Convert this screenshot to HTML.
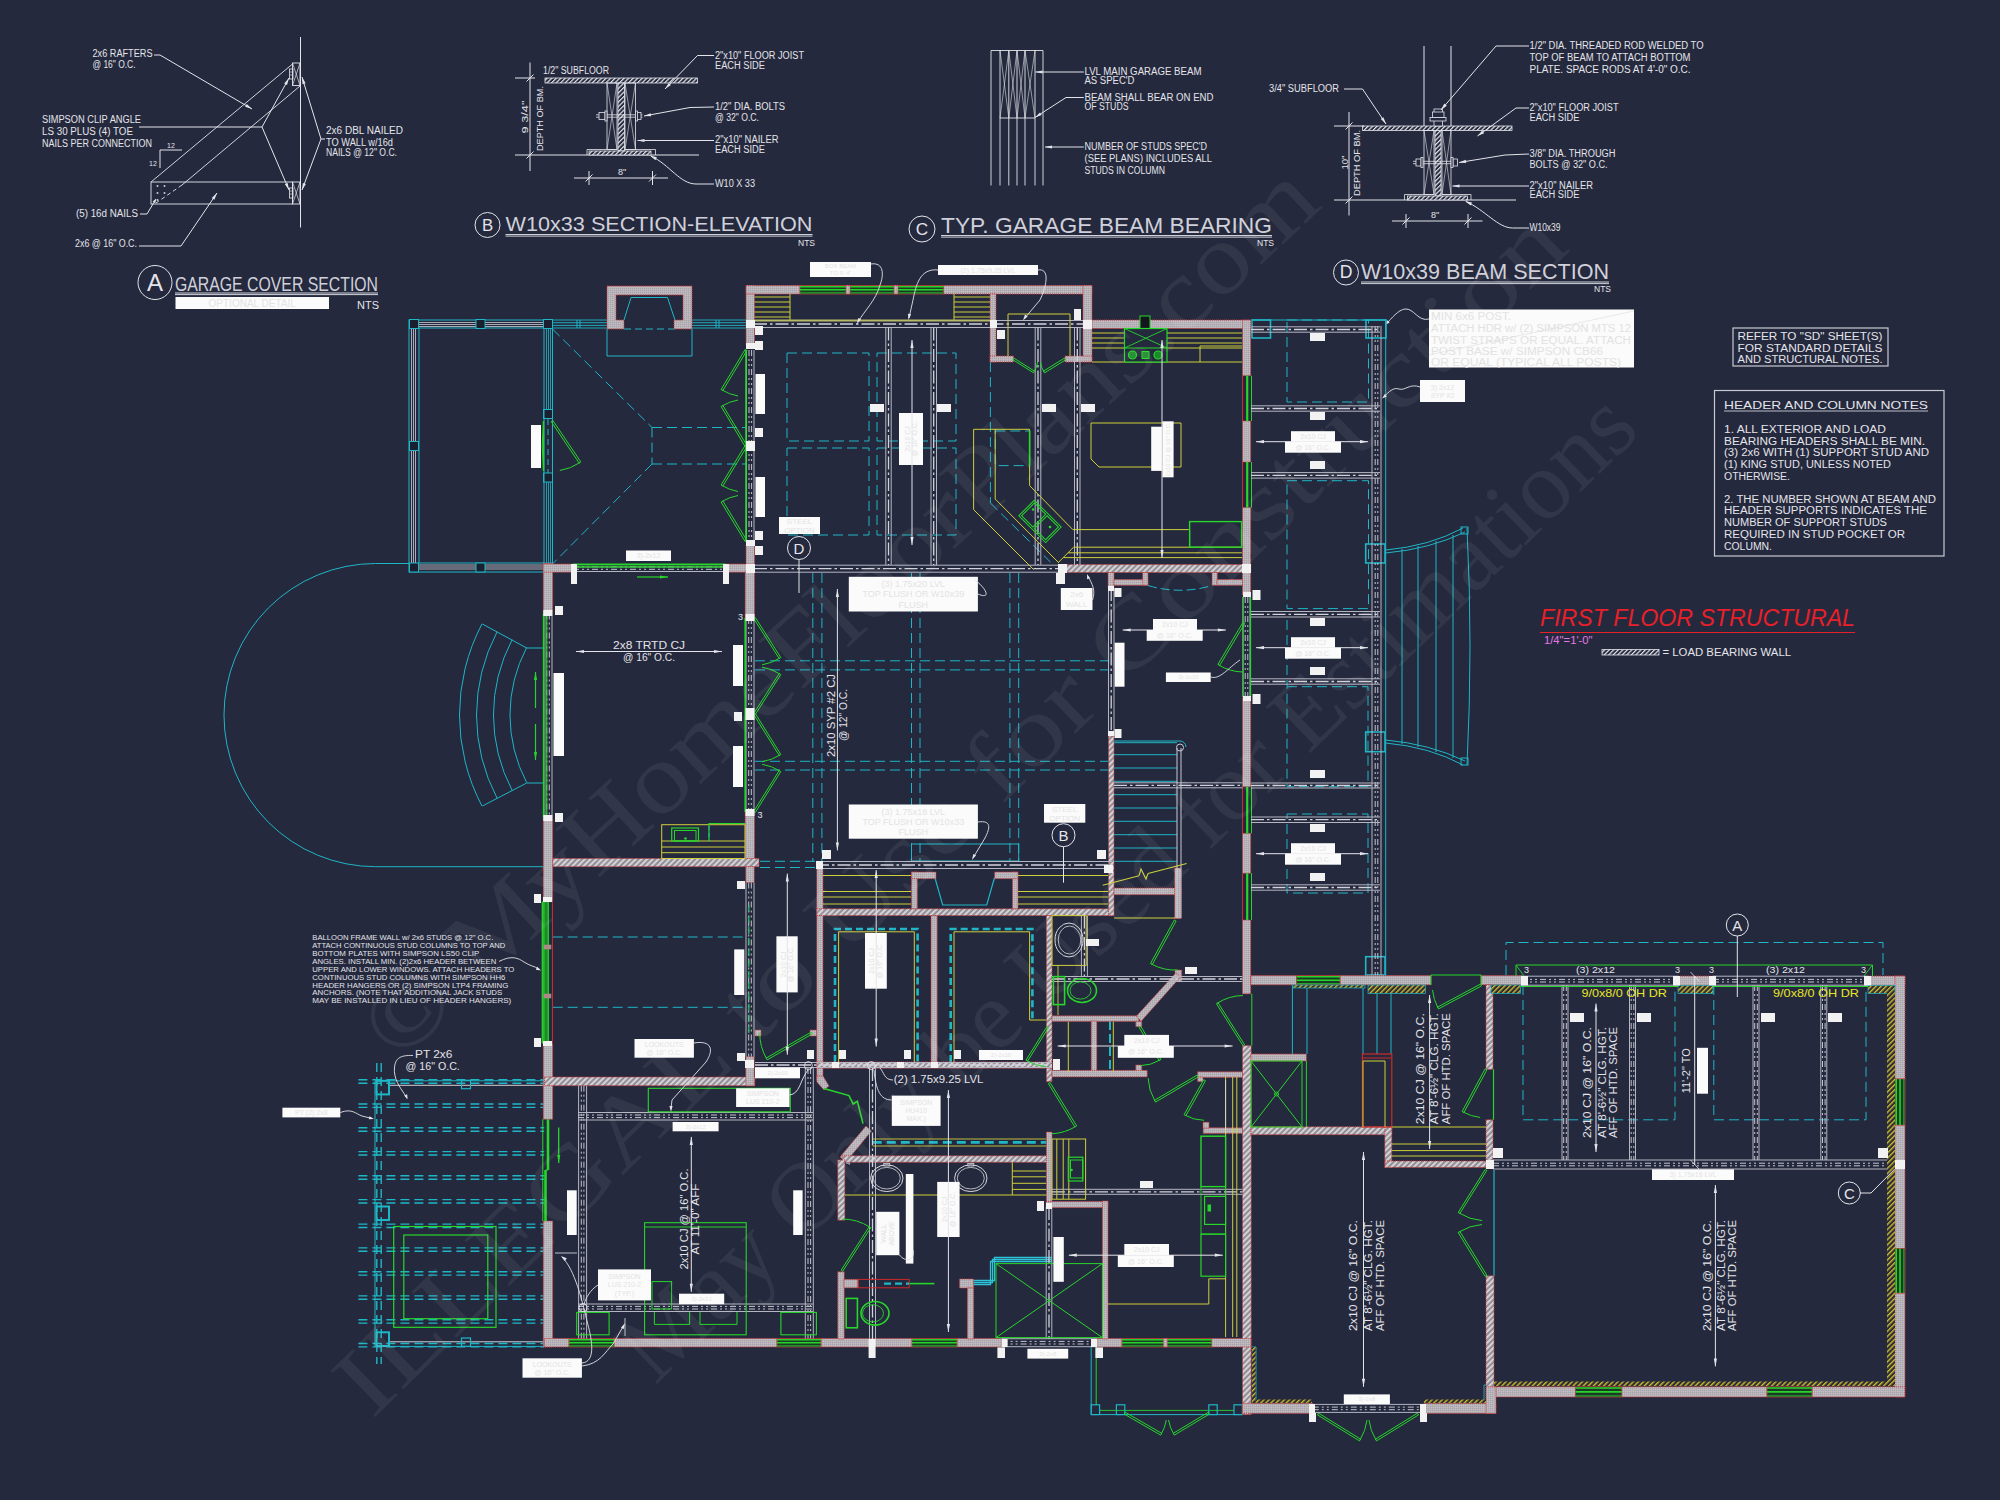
<!DOCTYPE html>
<html><head><meta charset="utf-8"><title>First Floor Structural</title>
<style>
html,body{margin:0;padding:0;background:#24293d;}
body{width:2000px;height:1500px;overflow:hidden;}
svg{display:block;}
text{font-family:"Liberation Sans","DejaVu Sans",sans-serif;}
.ser{font-family:"Liberation Serif","DejaVu Serif",serif;}
.it{font-style:italic;}
</style></head><body>
<svg width="2000" height="1500" viewBox="0 0 2000 1500">
<defs>
<pattern id="wl" width="2" height="2" patternUnits="userSpaceOnUse"><rect width="2" height="2" fill="#b6b2b8"/><rect width="1" height="1" fill="#a8a4ab"/><rect x="1" y="1" width="1" height="1" fill="#c2bec4"/></pattern>
<pattern id="lb" width="4" height="4" patternUnits="userSpaceOnUse" patternTransform="rotate(-45)"><rect width="4" height="4" fill="#8a878f"/><rect width="4" height="2.2" fill="#d4d1d6"/></pattern>
<pattern id="oh" width="3.6" height="3.6" patternUnits="userSpaceOnUse" patternTransform="rotate(-45)"><rect width="3.6" height="3.6" fill="#2c2d38"/><rect width="3.6" height="1.4" fill="#cdbb2c"/></pattern>
<pattern id="wh" width="3.2" height="3.2" patternUnits="userSpaceOnUse" patternTransform="rotate(-45)"><rect width="3.2" height="3.2" fill="#24293d"/><rect width="3.2" height="1.2" fill="#e4e4ea"/></pattern>
</defs>
<rect width="2000" height="1500" fill="#24293d"/>
<line x1="300.5" y1="37" x2="300.5" y2="227.5" stroke="#e4e4ea" stroke-width="1"/>
<rect x="292.5" y="63" width="7.5" height="22.5" stroke="#e4e4ea" stroke-width="0.9" fill="none"/>
<line x1="292.5" y1="63" x2="300" y2="85.5" stroke="#e4e4ea" stroke-width="0.7"/>
<line x1="300" y1="63" x2="292.5" y2="85.5" stroke="#e4e4ea" stroke-width="0.7"/>
<rect x="289.5" y="69" width="3.5" height="10" stroke="#e4e4ea" stroke-width="0.8" fill="none"/>
<line x1="289.5" y1="72" x2="293" y2="72" stroke="#e4e4ea" stroke-width="0.6"/>
<line x1="289.5" y1="75" x2="293" y2="75" stroke="#e4e4ea" stroke-width="0.6"/>
<rect x="292.5" y="182" width="7.5" height="22" stroke="#e4e4ea" stroke-width="0.9" fill="none"/>
<line x1="292.5" y1="182" x2="300" y2="204" stroke="#e4e4ea" stroke-width="0.7"/>
<line x1="300" y1="182" x2="292.5" y2="204" stroke="#e4e4ea" stroke-width="0.7"/>
<rect x="289.5" y="188" width="3.5" height="10" stroke="#e4e4ea" stroke-width="0.8" fill="none"/>
<line x1="289.5" y1="191" x2="293" y2="191" stroke="#e4e4ea" stroke-width="0.6"/>
<line x1="289.5" y1="194" x2="293" y2="194" stroke="#e4e4ea" stroke-width="0.6"/>
<rect x="151" y="182" width="141.5" height="22" stroke="#e4e4ea" stroke-width="0.9" fill="none"/>
<line x1="151" y1="182" x2="292.5" y2="64" stroke="#e4e4ea" stroke-width="0.9"/>
<line x1="300" y1="86" x2="182" y2="185" stroke="#e4e4ea" stroke-width="0.9"/>
<line x1="182" y1="185" x2="156" y2="203" stroke="#e4e4ea" stroke-width="0.9" stroke-dasharray="4 3"/>
<rect x="156.7" y="185.2" width="1.6" height="1.6" stroke="#e4e4ea" stroke-width="0" fill="#e4e4ea"/>
<rect x="163.7" y="185.2" width="1.6" height="1.6" stroke="#e4e4ea" stroke-width="0" fill="#e4e4ea"/>
<rect x="156.7" y="192.2" width="1.6" height="1.6" stroke="#e4e4ea" stroke-width="0" fill="#e4e4ea"/>
<rect x="163.7" y="192.2" width="1.6" height="1.6" stroke="#e4e4ea" stroke-width="0" fill="#e4e4ea"/>
<rect x="156.7" y="199.2" width="1.6" height="1.6" stroke="#e4e4ea" stroke-width="0" fill="#e4e4ea"/>
<line x1="160" y1="150" x2="182" y2="150" stroke="#e4e4ea" stroke-width="1"/>
<line x1="160" y1="150" x2="160" y2="168" stroke="#e4e4ea" stroke-width="1"/>
<text x="171" y="147.5" font-size="7" fill="#e4e4ea" text-anchor="middle">12</text>
<text x="153" y="165.5" font-size="7" fill="#e4e4ea" text-anchor="middle">12</text>
<path d="M154 55 L160 55 L252 109" stroke="#e4e4ea" stroke-width="1" fill="none"/>
<path d="M252 109 L245.2 106.8 L246.8 104.1 Z" fill="#e4e4ea"/>
<path d="M139 127 L262 127" stroke="#e4e4ea" stroke-width="1" fill="none"/>
<path d="M262 127 L289 78" stroke="#e4e4ea" stroke-width="1" fill="none"/>
<path d="M289 78 L287 84.9 L284.2 83.4 Z" fill="#e4e4ea"/>
<path d="M262 127 L289 190" stroke="#e4e4ea" stroke-width="1" fill="none"/>
<path d="M289 190 L284.8 184.2 L287.7 182.9 Z" fill="#e4e4ea"/>
<path d="M325 139 L321 139" stroke="#e4e4ea" stroke-width="1" fill="none"/>
<path d="M321 139 L302 77" stroke="#e4e4ea" stroke-width="1" fill="none"/>
<path d="M302 77 L305.6 83.2 L302.5 84.2 Z" fill="#e4e4ea"/>
<path d="M321 139 L302 190" stroke="#e4e4ea" stroke-width="1" fill="none"/>
<path d="M302 190 L302.9 182.9 L305.9 184 Z" fill="#e4e4ea"/>
<path d="M140 214 L147 214 L156 199" stroke="#e4e4ea" stroke-width="1" fill="none"/>
<path d="M156 199 L155.3 203.3 L152.6 201.6 Z" fill="#e4e4ea"/>
<path d="M139 246 L181 246 L217 193" stroke="#e4e4ea" stroke-width="1" fill="none"/>
<path d="M217 193 L214.4 199.7 L211.7 197.9 Z" fill="#e4e4ea"/>
<text x="92.5" y="57" font-size="10" fill="#e4e4ea" textLength="60" lengthAdjust="spacingAndGlyphs">2x6 RAFTERS</text>
<text x="92.5" y="67.5" font-size="10" fill="#e4e4ea" textLength="43" lengthAdjust="spacingAndGlyphs">@ 16" O.C.</text>
<text x="42" y="122.5" font-size="10" fill="#e4e4ea" textLength="99" lengthAdjust="spacingAndGlyphs">SIMPSON CLIP ANGLE</text>
<text x="42" y="134.5" font-size="10" fill="#e4e4ea" textLength="91" lengthAdjust="spacingAndGlyphs">LS 30 PLUS (4) TOE</text>
<text x="42" y="147" font-size="10" fill="#e4e4ea" textLength="110" lengthAdjust="spacingAndGlyphs">NAILS PER CONNECTION</text>
<text x="326" y="134" font-size="10" fill="#e4e4ea" textLength="77" lengthAdjust="spacingAndGlyphs">2x6 DBL NAILED</text>
<text x="326" y="145.5" font-size="10" fill="#e4e4ea" textLength="67" lengthAdjust="spacingAndGlyphs">TO WALL w/16d</text>
<text x="326" y="156" font-size="10" fill="#e4e4ea" textLength="71" lengthAdjust="spacingAndGlyphs">NAILS @ 12" O.C.</text>
<text x="76" y="217" font-size="10" fill="#e4e4ea" textLength="62" lengthAdjust="spacingAndGlyphs">(5) 16d NAILS</text>
<text x="75" y="247" font-size="10" fill="#e4e4ea" textLength="62" lengthAdjust="spacingAndGlyphs">2x6 @ 16" O.C.</text>
<circle cx="155" cy="282.5" r="17" stroke="#e4e4ea" stroke-width="1" fill="none"/>
<text x="155" y="291" font-size="24" fill="#e4e4ea" text-anchor="middle">A</text>
<text x="175" y="291" font-size="21" fill="#d0d0da" textLength="203" lengthAdjust="spacingAndGlyphs">GARAGE COVER SECTION</text>
<line x1="175" y1="293" x2="378" y2="293" stroke="#e4e4ea" stroke-width="0.9"/>
<line x1="175" y1="294.6" x2="378" y2="294.6" stroke="#e4e4ea" stroke-width="0.9"/>
<rect x="175.5" y="297" width="153.5" height="12" fill="#fbfbfb"/>
<text x="252.2" y="306.6" font-size="10" fill="#e3e3e3" text-anchor="middle">OPTIONAL DETAIL</text>
<text x="357" y="309" font-size="10.5" fill="#e4e4ea" textLength="22" lengthAdjust="spacingAndGlyphs">NTS</text>
<line x1="530" y1="62.5" x2="530" y2="171" stroke="#e4e4ea" stroke-width="1"/>
<line x1="515" y1="78" x2="535" y2="78" stroke="#e4e4ea" stroke-width="1"/>
<line x1="515" y1="155" x2="699" y2="155" stroke="#e4e4ea" stroke-width="1"/>
<line x1="526.5" y1="81.5" x2="533.5" y2="74.5" stroke="#e4e4ea" stroke-width="1"/>
<line x1="526.5" y1="158.5" x2="533.5" y2="151.5" stroke="#e4e4ea" stroke-width="1"/>
<text x="543" y="74" font-size="10" fill="#e4e4ea" textLength="66" lengthAdjust="spacingAndGlyphs">1/2" SUBFLOOR</text>
<rect x="545" y="78" width="152.5" height="5" fill="url(#wh)" stroke="#e4e4ea" stroke-width="0.8"/>
<rect x="618" y="83" width="6.5" height="68" fill="url(#wh)" stroke="#e4e4ea" stroke-width="0.8"/>
<rect x="589" y="151" width="62" height="4" fill="url(#wh)" stroke="#e4e4ea" stroke-width="0.8"/>
<path d="M587 155 L587 149.5 L617 149.5" stroke="#e4e4ea" stroke-width="0.8" fill="none"/>
<path d="M625 149.5 L655.5 149.5 L655.5 155" stroke="#e4e4ea" stroke-width="0.8" fill="none"/>
<rect x="607" y="83" width="10" height="66.5" stroke="#e4e4ea" stroke-width="0.8" fill="none"/>
<line x1="607" y1="83" x2="617" y2="149.5" stroke="#e4e4ea" stroke-width="0.6"/>
<line x1="617" y1="83" x2="607" y2="149.5" stroke="#e4e4ea" stroke-width="0.6"/>
<rect x="625" y="83" width="10.5" height="66.5" stroke="#e4e4ea" stroke-width="0.8" fill="none"/>
<line x1="625" y1="83" x2="635.5" y2="149.5" stroke="#e4e4ea" stroke-width="0.6"/>
<line x1="635.5" y1="83" x2="625" y2="149.5" stroke="#e4e4ea" stroke-width="0.6"/>
<line x1="596" y1="114.8" x2="642.5" y2="114.8" stroke="#e4e4ea" stroke-width="0.8"/>
<line x1="596" y1="117.2" x2="642.5" y2="117.2" stroke="#e4e4ea" stroke-width="0.8"/>
<rect x="599" y="112.5" width="6" height="7" stroke="#e4e4ea" stroke-width="0.8" fill="#24293d"/>
<rect x="636" y="112.5" width="5" height="7" stroke="#e4e4ea" stroke-width="0.8" fill="#24293d"/>
<rect x="605" y="111" width="2" height="10" stroke="#e4e4ea" stroke-width="0.8" fill="#24293d"/>
<rect x="635.5" y="111" width="2" height="10" stroke="#e4e4ea" stroke-width="0.8" fill="#24293d"/>
<text x="528" y="117" font-size="9" fill="#e4e4ea" text-anchor="middle" textLength="33" lengthAdjust="spacingAndGlyphs" transform="rotate(-90 528 117)">9 3/4"</text>
<text x="542.5" y="118.5" font-size="9" fill="#e4e4ea" text-anchor="middle" textLength="65" lengthAdjust="spacingAndGlyphs" transform="rotate(-90 542.5 118.5)">DEPTH OF BM.</text>
<line x1="574" y1="178" x2="668" y2="178" stroke="#e4e4ea" stroke-width="1"/>
<line x1="589" y1="171" x2="589" y2="185" stroke="#e4e4ea" stroke-width="1"/>
<line x1="652.5" y1="171" x2="652.5" y2="185" stroke="#e4e4ea" stroke-width="1"/>
<line x1="585.5" y1="181.5" x2="592.5" y2="174.5" stroke="#e4e4ea" stroke-width="1"/>
<line x1="649" y1="181.5" x2="656" y2="174.5" stroke="#e4e4ea" stroke-width="1"/>
<text x="622" y="175" font-size="9" fill="#e4e4ea" text-anchor="middle">8"</text>
<text x="715" y="59" font-size="10" fill="#e4e4ea" textLength="89" lengthAdjust="spacingAndGlyphs">2"x10" FLOOR JOIST</text>
<text x="715" y="69" font-size="10" fill="#e4e4ea" textLength="50" lengthAdjust="spacingAndGlyphs">EACH SIDE</text>
<text x="715" y="110" font-size="10" fill="#e4e4ea" textLength="70" lengthAdjust="spacingAndGlyphs">1/2" DIA. BOLTS</text>
<text x="715" y="121" font-size="10" fill="#e4e4ea" textLength="44" lengthAdjust="spacingAndGlyphs">@ 32" O.C.</text>
<text x="715" y="143" font-size="10" fill="#e4e4ea" textLength="63.5" lengthAdjust="spacingAndGlyphs">2"x10" NAILER</text>
<text x="715" y="152.5" font-size="10" fill="#e4e4ea" textLength="50" lengthAdjust="spacingAndGlyphs">EACH SIDE</text>
<text x="715" y="187" font-size="10" fill="#e4e4ea" textLength="40" lengthAdjust="spacingAndGlyphs">W10 X 33</text>
<path d="M714 55.5 L697.5 55.5 L665 89" stroke="#e4e4ea" stroke-width="1" fill="none"/>
<path d="M665 89 L668.7 82.9 L671 85.1 Z" fill="#e4e4ea"/>
<path d="M714 107 L690 107.5 L644 116" stroke="#e4e4ea" stroke-width="1" fill="none"/>
<path d="M644 116 L650.6 113.2 L651.2 116.3 Z" fill="#e4e4ea"/>
<path d="M714 140.5 L637.5 140.5" stroke="#e4e4ea" stroke-width="1" fill="none"/>
<path d="M637.5 140.5 L644.5 138.9 L644.5 142.1 Z" fill="#e4e4ea"/>
<path d="M714 184 L696 184 C680 184 670 165 651 156" stroke="#e4e4ea" stroke-width="1" fill="none"/>
<path d="M650 155.5 L656.9 157.3 L655.4 160.2 Z" fill="#e4e4ea"/>
<circle cx="487.5" cy="225" r="12.5" stroke="#e4e4ea" stroke-width="1" fill="none"/>
<text x="487.5" y="230.7" font-size="16.8" fill="#e4e4ea" text-anchor="middle">B</text>
<text x="505.5" y="231" font-size="21" fill="#d0d0da" textLength="307" lengthAdjust="spacingAndGlyphs">W10x33 SECTION-ELEVATION</text>
<line x1="505.5" y1="234.5" x2="812.5" y2="234.5" stroke="#e4e4ea" stroke-width="0.9"/>
<line x1="505.5" y1="236.1" x2="812.5" y2="236.1" stroke="#e4e4ea" stroke-width="0.9"/>
<text x="798" y="245.5" font-size="9.5" fill="#e4e4ea" textLength="17" lengthAdjust="spacingAndGlyphs">NTS</text>
<line x1="991" y1="50.5" x2="991" y2="185.5" stroke="#e4e4ea" stroke-width="0.9"/>
<line x1="1000" y1="50.5" x2="1000" y2="185.5" stroke="#e4e4ea" stroke-width="0.9"/>
<line x1="1008.8" y1="50.5" x2="1008.8" y2="185.5" stroke="#e4e4ea" stroke-width="0.9"/>
<line x1="1017" y1="50.5" x2="1017" y2="185.5" stroke="#e4e4ea" stroke-width="0.9"/>
<line x1="1025" y1="50.5" x2="1025" y2="185.5" stroke="#e4e4ea" stroke-width="0.9"/>
<line x1="1035" y1="50.5" x2="1035" y2="185.5" stroke="#e4e4ea" stroke-width="0.9"/>
<line x1="1043" y1="50.5" x2="1043" y2="185.5" stroke="#e4e4ea" stroke-width="0.9"/>
<line x1="991" y1="50.5" x2="1043" y2="50.5" stroke="#e4e4ea" stroke-width="0.9"/>
<line x1="1000" y1="118" x2="1035" y2="118" stroke="#e4e4ea" stroke-width="0.9"/>
<line x1="1000" y1="50.5" x2="1008.8" y2="118" stroke="#e4e4ea" stroke-width="0.6"/>
<line x1="1008.8" y1="50.5" x2="1000" y2="118" stroke="#e4e4ea" stroke-width="0.6"/>
<line x1="1008.8" y1="50.5" x2="1017" y2="118" stroke="#e4e4ea" stroke-width="0.6"/>
<line x1="1017" y1="50.5" x2="1008.8" y2="118" stroke="#e4e4ea" stroke-width="0.6"/>
<line x1="1017" y1="50.5" x2="1025" y2="118" stroke="#e4e4ea" stroke-width="0.6"/>
<line x1="1025" y1="50.5" x2="1017" y2="118" stroke="#e4e4ea" stroke-width="0.6"/>
<line x1="1025" y1="50.5" x2="1035" y2="118" stroke="#e4e4ea" stroke-width="0.6"/>
<line x1="1035" y1="50.5" x2="1025" y2="118" stroke="#e4e4ea" stroke-width="0.6"/>
<text x="1084.5" y="75" font-size="10" fill="#e4e4ea" textLength="117" lengthAdjust="spacingAndGlyphs">LVL MAIN GARAGE BEAM</text>
<text x="1084.5" y="84" font-size="10" fill="#e4e4ea" textLength="50" lengthAdjust="spacingAndGlyphs">AS SPEC'D</text>
<text x="1084.5" y="101" font-size="10" fill="#e4e4ea" textLength="129" lengthAdjust="spacingAndGlyphs">BEAM SHALL BEAR ON END</text>
<text x="1084.5" y="110" font-size="10" fill="#e4e4ea" textLength="44" lengthAdjust="spacingAndGlyphs">OF STUDS</text>
<text x="1084.5" y="150" font-size="10" fill="#e4e4ea" textLength="122.5" lengthAdjust="spacingAndGlyphs">NUMBER OF STUDS SPEC'D</text>
<text x="1084.5" y="162" font-size="10" fill="#e4e4ea" textLength="127.5" lengthAdjust="spacingAndGlyphs">(SEE PLANS) INCLUDES ALL</text>
<text x="1084.5" y="174" font-size="10" fill="#e4e4ea" textLength="80.5" lengthAdjust="spacingAndGlyphs">STUDS IN COLUMN</text>
<path d="M1083.8 72 L1035.5 72" stroke="#e4e4ea" stroke-width="1" fill="none"/>
<path d="M1035.5 72 L1042.5 70.4 L1042.5 73.6 Z" fill="#e4e4ea"/>
<path d="M1083.8 97.5 L1066 97.5 L1035 117.5" stroke="#e4e4ea" stroke-width="1" fill="none"/>
<path d="M1035 117.5 L1040 112.4 L1041.7 115 Z" fill="#e4e4ea"/>
<path d="M1083.8 147 L1045 147" stroke="#e4e4ea" stroke-width="1" fill="none"/>
<path d="M1045 147 L1052 145.4 L1052 148.6 Z" fill="#e4e4ea"/>
<circle cx="922" cy="229" r="13" stroke="#e4e4ea" stroke-width="1" fill="none"/>
<text x="922" y="234.8" font-size="17.2" fill="#e4e4ea" text-anchor="middle">C</text>
<text x="941" y="233" font-size="21.5" fill="#d0d0da" textLength="331" lengthAdjust="spacingAndGlyphs">TYP. GARAGE BEAM BEARING</text>
<line x1="941" y1="235.5" x2="1272" y2="235.5" stroke="#e4e4ea" stroke-width="0.9"/>
<line x1="941" y1="237.1" x2="1272" y2="237.1" stroke="#e4e4ea" stroke-width="0.9"/>
<text x="1257" y="246" font-size="9.5" fill="#e4e4ea" textLength="17" lengthAdjust="spacingAndGlyphs">NTS</text>
<text x="1269" y="92" font-size="10" fill="#e4e4ea" textLength="70" lengthAdjust="spacingAndGlyphs">3/4" SUBFLOOR</text>
<path d="M1344 89 L1362.5 89 L1386 124" stroke="#e4e4ea" stroke-width="1" fill="none"/>
<path d="M1386 124 L1380.8 119.1 L1383.4 117.3 Z" fill="#e4e4ea"/>
<line x1="1349" y1="112" x2="1349" y2="215.5" stroke="#e4e4ea" stroke-width="1"/>
<line x1="1334" y1="126" x2="1364" y2="126" stroke="#e4e4ea" stroke-width="1"/>
<line x1="1334" y1="200" x2="1516" y2="200" stroke="#e4e4ea" stroke-width="1"/>
<line x1="1345.5" y1="129.5" x2="1352.5" y2="122.5" stroke="#e4e4ea" stroke-width="1"/>
<line x1="1345.5" y1="203.5" x2="1352.5" y2="196.5" stroke="#e4e4ea" stroke-width="1"/>
<rect x="1362.5" y="126" width="149.5" height="4.5" fill="url(#wh)" stroke="#e4e4ea" stroke-width="0.8"/>
<line x1="1424" y1="46" x2="1424" y2="126" stroke="#e4e4ea" stroke-width="1"/>
<line x1="1451" y1="46" x2="1451" y2="126" stroke="#e4e4ea" stroke-width="1"/>
<rect x="1435" y="130.5" width="6" height="65.5" fill="url(#wh)" stroke="#e4e4ea" stroke-width="0.8"/>
<rect x="1407.5" y="196" width="60" height="4" fill="url(#wh)" stroke="#e4e4ea" stroke-width="0.8"/>
<path d="M1404.5 200 L1404.5 194.5 L1434 194.5" stroke="#e4e4ea" stroke-width="0.8" fill="none"/>
<path d="M1442 194.5 L1471 194.5 L1471 200" stroke="#e4e4ea" stroke-width="0.8" fill="none"/>
<rect x="1424" y="130.5" width="10" height="64" stroke="#e4e4ea" stroke-width="0.8" fill="none"/>
<line x1="1424" y1="130.5" x2="1434" y2="194.5" stroke="#e4e4ea" stroke-width="0.6"/>
<line x1="1434" y1="130.5" x2="1424" y2="194.5" stroke="#e4e4ea" stroke-width="0.6"/>
<rect x="1442" y="130.5" width="9" height="64" stroke="#e4e4ea" stroke-width="0.8" fill="none"/>
<line x1="1442" y1="130.5" x2="1451" y2="194.5" stroke="#e4e4ea" stroke-width="0.6"/>
<line x1="1451" y1="130.5" x2="1442" y2="194.5" stroke="#e4e4ea" stroke-width="0.6"/>
<rect x="1434" y="109" width="8.5" height="17" stroke="#e4e4ea" stroke-width="0.8" fill="#24293d"/>
<rect x="1430" y="117.5" width="16" height="3.5" stroke="#e4e4ea" stroke-width="0.8" fill="#24293d"/>
<rect x="1432.5" y="112" width="11.5" height="5.5" stroke="#e4e4ea" stroke-width="0.8" fill="#24293d"/>
<line x1="1413" y1="161.3" x2="1458" y2="161.3" stroke="#e4e4ea" stroke-width="0.8"/>
<line x1="1413" y1="163.7" x2="1458" y2="163.7" stroke="#e4e4ea" stroke-width="0.8"/>
<rect x="1416" y="159" width="5" height="7" stroke="#e4e4ea" stroke-width="0.8" fill="#24293d"/>
<rect x="1453" y="159" width="4.5" height="7" stroke="#e4e4ea" stroke-width="0.8" fill="#24293d"/>
<rect x="1421" y="157.5" width="2" height="10" stroke="#e4e4ea" stroke-width="0.8" fill="#24293d"/>
<rect x="1451" y="157.5" width="2" height="10" stroke="#e4e4ea" stroke-width="0.8" fill="#24293d"/>
<line x1="1392" y1="221" x2="1482.5" y2="221" stroke="#e4e4ea" stroke-width="1"/>
<line x1="1406" y1="214" x2="1406" y2="228" stroke="#e4e4ea" stroke-width="1"/>
<line x1="1468" y1="214" x2="1468" y2="228" stroke="#e4e4ea" stroke-width="1"/>
<line x1="1402.5" y1="224.5" x2="1409.5" y2="217.5" stroke="#e4e4ea" stroke-width="1"/>
<line x1="1464.5" y1="224.5" x2="1471.5" y2="217.5" stroke="#e4e4ea" stroke-width="1"/>
<text x="1435" y="217.5" font-size="9" fill="#e4e4ea" text-anchor="middle">8"</text>
<text x="1348" y="162.5" font-size="9" fill="#e4e4ea" text-anchor="middle" textLength="14" lengthAdjust="spacingAndGlyphs" transform="rotate(-90 1348 162.5)">10"</text>
<text x="1360" y="163" font-size="9" fill="#e4e4ea" text-anchor="middle" textLength="66" lengthAdjust="spacingAndGlyphs" transform="rotate(-90 1360 163)">DEPTH OF BM.</text>
<text x="1529.5" y="49" font-size="10" fill="#e4e4ea" textLength="174" lengthAdjust="spacingAndGlyphs">1/2" DIA. THREADED ROD WELDED TO</text>
<text x="1529.5" y="61" font-size="10" fill="#e4e4ea" textLength="161" lengthAdjust="spacingAndGlyphs">TOP OF BEAM TO ATTACH BOTTOM</text>
<text x="1529.5" y="73" font-size="10" fill="#e4e4ea" textLength="161" lengthAdjust="spacingAndGlyphs">PLATE. SPACE RODS AT 4'-0" O.C.</text>
<text x="1529.5" y="111" font-size="10" fill="#e4e4ea" textLength="89" lengthAdjust="spacingAndGlyphs">2"x10" FLOOR JOIST</text>
<text x="1529.5" y="121" font-size="10" fill="#e4e4ea" textLength="50" lengthAdjust="spacingAndGlyphs">EACH SIDE</text>
<text x="1529.5" y="157" font-size="10" fill="#e4e4ea" textLength="86" lengthAdjust="spacingAndGlyphs">3/8" DIA. THROUGH</text>
<text x="1529.5" y="167.5" font-size="10" fill="#e4e4ea" textLength="78" lengthAdjust="spacingAndGlyphs">BOLTS @ 32" O.C.</text>
<text x="1529.5" y="189" font-size="10" fill="#e4e4ea" textLength="63.5" lengthAdjust="spacingAndGlyphs">2"x10" NAILER</text>
<text x="1529.5" y="198" font-size="10" fill="#e4e4ea" textLength="50" lengthAdjust="spacingAndGlyphs">EACH SIDE</text>
<text x="1529.5" y="231" font-size="10" fill="#e4e4ea" textLength="31" lengthAdjust="spacingAndGlyphs">W10x39</text>
<path d="M1529 46 L1496 46 L1441 110" stroke="#e4e4ea" stroke-width="1" fill="none"/>
<path d="M1441 110 L1444.3 103.6 L1446.8 105.7 Z" fill="#e4e4ea"/>
<path d="M1529 108 L1516 108 L1477.5 136" stroke="#e4e4ea" stroke-width="1" fill="none"/>
<path d="M1477.5 136 L1482.2 130.6 L1484.1 133.2 Z" fill="#e4e4ea"/>
<path d="M1529 154 L1505 155 L1459 162.5" stroke="#e4e4ea" stroke-width="1" fill="none"/>
<path d="M1459 162.5 L1465.7 159.8 L1466.2 163 Z" fill="#e4e4ea"/>
<path d="M1529 186 L1452.5 186" stroke="#e4e4ea" stroke-width="1" fill="none"/>
<path d="M1452.5 186 L1459.5 184.4 L1459.5 187.6 Z" fill="#e4e4ea"/>
<path d="M1529 228 L1512.5 228 C1498 228 1485 210 1466 201.5" stroke="#e4e4ea" stroke-width="1" fill="none"/>
<path d="M1465 201 L1472 202.6 L1470.6 205.4 Z" fill="#e4e4ea"/>
<circle cx="1346" cy="272.5" r="12.5" stroke="#e4e4ea" stroke-width="1" fill="none"/>
<text x="1346" y="278.4" font-size="17.6" fill="#e4e4ea" text-anchor="middle">D</text>
<text x="1361" y="279" font-size="22" fill="#d0d0da" textLength="248" lengthAdjust="spacingAndGlyphs">W10x39 BEAM SECTION</text>
<line x1="1361" y1="282" x2="1609" y2="282" stroke="#e4e4ea" stroke-width="0.9"/>
<line x1="1361" y1="283.6" x2="1609" y2="283.6" stroke="#e4e4ea" stroke-width="0.9"/>
<text x="1594" y="292" font-size="9.5" fill="#e4e4ea" textLength="17" lengthAdjust="spacingAndGlyphs">NTS</text>
<rect x="1429" y="309.5" width="205" height="58" fill="#fbfbfb"/>
<text x="1431" y="320" font-size="10" fill="#e2e2e2" textLength="80" lengthAdjust="spacingAndGlyphs">MIN 6x6 POST.</text>
<text x="1431" y="332" font-size="10" fill="#e2e2e2" textLength="200" lengthAdjust="spacingAndGlyphs">ATTACH HDR w/ (2) SIMPSON MTS 12</text>
<text x="1431" y="343.5" font-size="10" fill="#e2e2e2" textLength="200" lengthAdjust="spacingAndGlyphs">TWIST STRAPS OR EQUAL.  ATTACH</text>
<text x="1431" y="355" font-size="10" fill="#e2e2e2" textLength="172" lengthAdjust="spacingAndGlyphs">POST BASE w/ SIMPSON CB66</text>
<text x="1431" y="366" font-size="10" fill="#e2e2e2" textLength="190" lengthAdjust="spacingAndGlyphs">OR EQUAL (TYPICAL ALL POSTS)</text>
<line x1="1429" y1="355" x2="1634" y2="311" stroke="#dcdcdc" stroke-width="0.6"/>
<path d="M1386 324 C1392 318 1398 310 1405 309 C1414 308 1418 322 1429 319" stroke="#e4e4ea" stroke-width="0.9" fill="none"/>
<path d="M1385 325 L1387.4 320.3 L1389.7 322.6 Z" fill="#e4e4ea"/>
<rect x="1733" y="328" width="155" height="38" stroke="#c9c9d2" stroke-width="1.2" fill="none"/>
<text x="1737.5" y="340" font-size="10" fill="#e4e4ea" textLength="145" lengthAdjust="spacingAndGlyphs">REFER TO "SD" SHEET(S)</text>
<text x="1737.5" y="352" font-size="10" fill="#e4e4ea" textLength="145" lengthAdjust="spacingAndGlyphs">FOR STANDARD DETAILS</text>
<text x="1737.5" y="363" font-size="10" fill="#e4e4ea" textLength="145" lengthAdjust="spacingAndGlyphs">AND STRUCTURAL NOTES.</text>
<rect x="1714.5" y="390.5" width="229.5" height="165.5" stroke="#c9c9d2" stroke-width="1.2" fill="none"/>
<text x="1724" y="409" font-size="11" fill="#e4e4ea" textLength="204" lengthAdjust="spacingAndGlyphs">HEADER AND COLUMN NOTES</text>
<line x1="1724" y1="411" x2="1928" y2="411" stroke="#e4e4ea" stroke-width="0.8"/>
<text x="1724" y="432.5" font-size="10" fill="#e4e4ea" textLength="162" lengthAdjust="spacingAndGlyphs">1. ALL EXTERIOR AND LOAD</text>
<text x="1724" y="444.5" font-size="10" fill="#e4e4ea" textLength="201" lengthAdjust="spacingAndGlyphs">BEARING HEADERS SHALL BE MIN.</text>
<text x="1724" y="456" font-size="10" fill="#e4e4ea" textLength="205" lengthAdjust="spacingAndGlyphs">(3) 2x6 WITH (1) SUPPORT STUD AND</text>
<text x="1724" y="468" font-size="10" fill="#e4e4ea" textLength="167" lengthAdjust="spacingAndGlyphs">(1) KING STUD, UNLESS NOTED</text>
<text x="1724" y="479.5" font-size="10" fill="#e4e4ea" textLength="66" lengthAdjust="spacingAndGlyphs">OTHERWISE.</text>
<text x="1724" y="502.5" font-size="10" fill="#e4e4ea" textLength="212" lengthAdjust="spacingAndGlyphs">2. THE NUMBER SHOWN AT BEAM AND</text>
<text x="1724" y="514" font-size="10" fill="#e4e4ea" textLength="203" lengthAdjust="spacingAndGlyphs">HEADER SUPPORTS INDICATES THE</text>
<text x="1724" y="526" font-size="10" fill="#e4e4ea" textLength="163" lengthAdjust="spacingAndGlyphs">NUMBER OF SUPPORT STUDS</text>
<text x="1724" y="538" font-size="10" fill="#e4e4ea" textLength="181" lengthAdjust="spacingAndGlyphs">REQUIRED IN STUD POCKET OR</text>
<text x="1724" y="549.5" font-size="10" fill="#e4e4ea" textLength="48" lengthAdjust="spacingAndGlyphs">COLUMN.</text>
<text x="1540" y="626" font-size="23" fill="#e8202a" textLength="315" lengthAdjust="spacingAndGlyphs" class="it">FIRST FLOOR STRUCTURAL</text>
<line x1="1540" y1="632.5" x2="1855" y2="632.5" stroke="#e8202a" stroke-width="1.2"/>
<text x="1544" y="644" font-size="10" fill="#e478e4" textLength="48.5" lengthAdjust="spacingAndGlyphs">1/4"=1'-0"</text>
<rect x="1602" y="649.5" width="57" height="5.5" fill="url(#wh)" stroke="#e4e4ea" stroke-width="0.8"/>
<text x="1662.5" y="655.5" font-size="10" fill="#e4e4ea" textLength="128.5" lengthAdjust="spacingAndGlyphs">= LOAD BEARING WALL</text>
<rect x="409" y="320" width="143.5" height="252" stroke="#1fb6c6" stroke-width="1" fill="none"/>
<line x1="419" y1="328" x2="544" y2="328" stroke="#1fb6c6" stroke-width="1"/>
<line x1="419" y1="328" x2="419" y2="563" stroke="#1fb6c6" stroke-width="1"/>
<line x1="419" y1="563" x2="544" y2="563" stroke="#1fb6c6" stroke-width="1"/>
<line x1="419" y1="322.5" x2="544" y2="322.5" stroke="#cfcfd6" stroke-width="0.8"/>
<line x1="419" y1="324.5" x2="544" y2="324.5" stroke="#cfcfd6" stroke-width="0.8"/>
<line x1="419" y1="326.5" x2="544" y2="326.5" stroke="#cfcfd6" stroke-width="0.8"/>
<line x1="419" y1="565" x2="544" y2="565" stroke="#cfcfd6" stroke-width="0.8"/>
<line x1="419" y1="567" x2="544" y2="567" stroke="#cfcfd6" stroke-width="0.8"/>
<line x1="419" y1="569" x2="544" y2="569" stroke="#cfcfd6" stroke-width="0.8"/>
<line x1="411.5" y1="328" x2="411.5" y2="563" stroke="#cfcfd6" stroke-width="0.8"/>
<line x1="413.5" y1="328" x2="413.5" y2="563" stroke="#cfcfd6" stroke-width="0.8"/>
<line x1="415.5" y1="328" x2="415.5" y2="563" stroke="#cfcfd6" stroke-width="0.8"/>
<rect x="409.5" y="319.5" width="9" height="9" stroke="#1fb6c6" stroke-width="1" fill="#1a2030"/>
<rect x="476" y="319.5" width="9" height="9" stroke="#1fb6c6" stroke-width="1" fill="#1a2030"/>
<rect x="543.5" y="319.5" width="9" height="9" stroke="#1fb6c6" stroke-width="1" fill="#1a2030"/>
<rect x="409.5" y="441.5" width="9" height="9" stroke="#1fb6c6" stroke-width="1" fill="#1a2030"/>
<rect x="409.5" y="563" width="9" height="9" stroke="#1fb6c6" stroke-width="1" fill="#1a2030"/>
<rect x="476" y="563" width="9" height="9" stroke="#1fb6c6" stroke-width="1" fill="#1a2030"/>
<rect x="543.5" y="409.5" width="9" height="9" stroke="#1fb6c6" stroke-width="1" fill="#1a2030"/>
<rect x="543.5" y="473" width="9" height="9" stroke="#1fb6c6" stroke-width="1" fill="#1a2030"/>
<rect x="543.5" y="563" width="9" height="9" stroke="#1fb6c6" stroke-width="1" fill="#1a2030"/>
<line x1="544" y1="328" x2="544" y2="563" stroke="#1fb6c6" stroke-width="1"/>
<line x1="552.5" y1="328" x2="552.5" y2="563" stroke="#1fb6c6" stroke-width="1"/>
<line x1="546.5" y1="329" x2="546.5" y2="410" stroke="#1fb6c6" stroke-width="0.8"/>
<line x1="546.5" y1="482" x2="546.5" y2="563" stroke="#1fb6c6" stroke-width="0.8"/>
<line x1="548.5" y1="329" x2="548.5" y2="410" stroke="#1fb6c6" stroke-width="0.8"/>
<line x1="548.5" y1="482" x2="548.5" y2="563" stroke="#1fb6c6" stroke-width="0.8"/>
<line x1="550.5" y1="329" x2="550.5" y2="410" stroke="#1fb6c6" stroke-width="0.8"/>
<line x1="550.5" y1="482" x2="550.5" y2="563" stroke="#1fb6c6" stroke-width="0.8"/>
<line x1="552.5" y1="320" x2="607" y2="320" stroke="#1fb6c6" stroke-width="0.9"/>
<line x1="692" y1="320" x2="746" y2="320" stroke="#1fb6c6" stroke-width="0.9"/>
<line x1="552.5" y1="322.7" x2="607" y2="322.7" stroke="#1fb6c6" stroke-width="0.9"/>
<line x1="692" y1="322.7" x2="746" y2="322.7" stroke="#1fb6c6" stroke-width="0.9"/>
<line x1="552.5" y1="325.4" x2="607" y2="325.4" stroke="#1fb6c6" stroke-width="0.9"/>
<line x1="692" y1="325.4" x2="746" y2="325.4" stroke="#1fb6c6" stroke-width="0.9"/>
<line x1="552.5" y1="328" x2="607" y2="328" stroke="#1fb6c6" stroke-width="0.9"/>
<line x1="692" y1="328" x2="746" y2="328" stroke="#1fb6c6" stroke-width="0.9"/>
<line x1="577" y1="320" x2="577" y2="328" stroke="#1fb6c6" stroke-width="1"/>
<line x1="580" y1="320" x2="580" y2="328" stroke="#1fb6c6" stroke-width="1"/>
<line x1="716" y1="320" x2="716" y2="328" stroke="#1fb6c6" stroke-width="1"/>
<line x1="719" y1="320" x2="719" y2="328" stroke="#1fb6c6" stroke-width="1"/>
<path d="M624 320 L631 297.5 L667.5 297.5 L675 320" stroke="#1fb6c6" stroke-width="1" fill="none"/>
<line x1="624" y1="329" x2="675" y2="329" stroke="#1fb6c6" stroke-width="1" stroke-dasharray="7 4"/>
<path d="M607 329 L607 356 L692 356 L692 329" stroke="#1fb6c6" stroke-width="1" fill="none"/>
<line x1="552.5" y1="329" x2="652" y2="427.5" stroke="#1fb6c6" stroke-width="1" stroke-dasharray="10 5"/>
<line x1="652" y1="427.5" x2="746" y2="427.5" stroke="#1fb6c6" stroke-width="1" stroke-dasharray="10 5"/>
<line x1="652" y1="427.5" x2="652" y2="464" stroke="#1fb6c6" stroke-width="1" stroke-dasharray="10 5"/>
<line x1="652" y1="464" x2="746" y2="464" stroke="#1fb6c6" stroke-width="1" stroke-dasharray="10 5"/>
<line x1="652" y1="464" x2="552.5" y2="564" stroke="#1fb6c6" stroke-width="1" stroke-dasharray="10 5"/>
<line x1="548" y1="419" x2="548" y2="473" stroke="#1fb6c6" stroke-width="1" stroke-dasharray="6 4"/>
<rect x="787" y="353" width="82" height="88" stroke="#1fb6c6" stroke-width="1" fill="none" stroke-dasharray="10 5"/>
<rect x="787" y="448" width="82" height="87" stroke="#1fb6c6" stroke-width="1" fill="none" stroke-dasharray="10 5"/>
<rect x="877" y="353" width="79" height="88" stroke="#1fb6c6" stroke-width="1" fill="none" stroke-dasharray="10 5"/>
<rect x="877" y="448" width="79" height="87" stroke="#1fb6c6" stroke-width="1" fill="none" stroke-dasharray="10 5"/>
<line x1="990.4" y1="362" x2="990.4" y2="503" stroke="#1fb6c6" stroke-width="1" stroke-dasharray="10 5"/>
<line x1="990.4" y1="503" x2="1050.4" y2="562" stroke="#1fb6c6" stroke-width="1" stroke-dasharray="10 5"/>
<rect x="995.2" y="431" width="34.4" height="34.6" stroke="#1fb6c6" stroke-width="1" fill="none" stroke-dasharray="10 5"/>
<line x1="812.8" y1="573" x2="812.8" y2="862" stroke="#1fb6c6" stroke-width="1" stroke-dasharray="10 5"/>
<line x1="821.9" y1="573" x2="821.9" y2="862" stroke="#1fb6c6" stroke-width="1" stroke-dasharray="10 5"/>
<line x1="911.5" y1="573" x2="911.5" y2="862" stroke="#1fb6c6" stroke-width="1" stroke-dasharray="10 5"/>
<line x1="920" y1="573" x2="920" y2="862" stroke="#1fb6c6" stroke-width="1" stroke-dasharray="10 5"/>
<line x1="1009.9" y1="573" x2="1009.9" y2="862" stroke="#1fb6c6" stroke-width="1" stroke-dasharray="10 5"/>
<line x1="1018.7" y1="573" x2="1018.7" y2="862" stroke="#1fb6c6" stroke-width="1" stroke-dasharray="10 5"/>
<line x1="755" y1="660.8" x2="1108" y2="660.8" stroke="#1fb6c6" stroke-width="1" stroke-dasharray="10 5"/>
<line x1="755" y1="669.9" x2="1108" y2="669.9" stroke="#1fb6c6" stroke-width="1" stroke-dasharray="10 5"/>
<line x1="755" y1="761.3" x2="1108" y2="761.3" stroke="#1fb6c6" stroke-width="1" stroke-dasharray="10 5"/>
<line x1="755" y1="770" x2="1108" y2="770" stroke="#1fb6c6" stroke-width="1" stroke-dasharray="10 5"/>
<line x1="760" y1="861.3" x2="816" y2="861.3" stroke="#1fb6c6" stroke-width="1" stroke-dasharray="10 5"/>
<line x1="760" y1="867.5" x2="816" y2="867.5" stroke="#1fb6c6" stroke-width="1" stroke-dasharray="10 5"/>
<rect x="911.5" y="844" width="107.2" height="17" stroke="#1fb6c6" stroke-width="1" fill="none"/>
<path d="M934.7 877 L942.7 905 L986.7 905 L994.7 877" stroke="#1fb6c6" stroke-width="1.2" fill="none"/>
<line x1="1114" y1="742.7" x2="1177" y2="742.7" stroke="#1fb6c6" stroke-width="1"/>
<line x1="1114" y1="754.7" x2="1177" y2="754.7" stroke="#1fb6c6" stroke-width="1"/>
<line x1="1114" y1="768" x2="1177" y2="768" stroke="#1fb6c6" stroke-width="1"/>
<line x1="1114" y1="781.3" x2="1177" y2="781.3" stroke="#1fb6c6" stroke-width="1"/>
<line x1="1114" y1="794.7" x2="1177" y2="794.7" stroke="#1fb6c6" stroke-width="1"/>
<line x1="1114" y1="808" x2="1177" y2="808" stroke="#1fb6c6" stroke-width="1"/>
<line x1="1114" y1="821.3" x2="1177" y2="821.3" stroke="#1fb6c6" stroke-width="1"/>
<line x1="1114" y1="834.7" x2="1177" y2="834.7" stroke="#1fb6c6" stroke-width="1"/>
<line x1="1114" y1="848" x2="1177" y2="848" stroke="#1fb6c6" stroke-width="1"/>
<line x1="1114" y1="861.3" x2="1177" y2="861.3" stroke="#1fb6c6" stroke-width="1"/>
<path d="M1114 741 L1180 741 A6 6 0 0 1 1186 747" stroke="#1fb6c6" stroke-width="1" fill="none"/>
<path d="M1148 585.5 Q1180 595 1212 585.5" stroke="#1fb6c6" stroke-width="1" fill="none" stroke-dasharray="9 4"/>
<path d="M835 1062 L835 929 L917.6 929 L917.6 1062" stroke="#1fb6c6" stroke-width="2.6" fill="none" stroke-dasharray="7 4"/>
<path d="M950.7 1062 L950.7 929 L1032.4 929 L1032.4 1020" stroke="#1fb6c6" stroke-width="2.6" fill="none" stroke-dasharray="7 4"/>
<line x1="872.8" y1="1142.4" x2="1046" y2="1142.4" stroke="#1fb6c6" stroke-width="2.6" stroke-dasharray="9 5"/>
<line x1="1110" y1="1021" x2="1110" y2="1073" stroke="#1fb6c6" stroke-width="2" stroke-dasharray="9 4"/>
<line x1="552.7" y1="937" x2="745" y2="937" stroke="#1fb6c6" stroke-width="1" stroke-dasharray="10 5"/>
<line x1="552.7" y1="1007.3" x2="745" y2="1007.3" stroke="#1fb6c6" stroke-width="1" stroke-dasharray="10 5"/>
<line x1="1385.7" y1="320" x2="1385.7" y2="975" stroke="#1fb6c6" stroke-width="1"/>
<line x1="1252" y1="320" x2="1386" y2="320" stroke="#1fb6c6" stroke-width="1"/>
<rect x="1252" y="320" width="18.5" height="18" stroke="#1fb6c6" stroke-width="1.6" fill="none"/>
<rect x="1366" y="320" width="20" height="18" stroke="#1fb6c6" stroke-width="1.6" fill="none"/>
<rect x="1365.7" y="544" width="19.3" height="19" stroke="#1fb6c6" stroke-width="1.6" fill="none"/>
<rect x="1365.7" y="732" width="19.3" height="19.7" stroke="#1fb6c6" stroke-width="1.6" fill="none"/>
<rect x="1365.7" y="956.7" width="19.3" height="18.3" stroke="#1fb6c6" stroke-width="1.6" fill="none"/>
<rect x="1287" y="320" width="81.5" height="82" stroke="#1fb6c6" stroke-width="1" fill="none" stroke-dasharray="10 5"/>
<rect x="1287" y="480.7" width="81.5" height="127.9" stroke="#1fb6c6" stroke-width="1" fill="none" stroke-dasharray="10 5"/>
<rect x="1287" y="686.7" width="81" height="100" stroke="#1fb6c6" stroke-width="1" fill="none" stroke-dasharray="10 5"/>
<rect x="1287" y="814" width="81" height="79" stroke="#1fb6c6" stroke-width="1" fill="none" stroke-dasharray="10 5"/>
<line x1="1287" y1="620" x2="1287" y2="686" stroke="#1fb6c6" stroke-width="1" stroke-dasharray="10 5"/>
<path d="M1385.7 550 Q1430 546 1463 528" stroke="#1fb6c6" stroke-width="1" fill="none"/>
<path d="M1385.7 553 Q1430 549 1465 532" stroke="#1fb6c6" stroke-width="1" fill="none"/>
<path d="M1385.7 743 Q1430 747 1463 765" stroke="#1fb6c6" stroke-width="1" fill="none"/>
<path d="M1385.7 740 Q1430 744 1465 761" stroke="#1fb6c6" stroke-width="1" fill="none"/>
<path d="M1467 528 Q1473 646 1467 765" stroke="#1fb6c6" stroke-width="1" fill="none"/>
<rect x="1461" y="527" width="7" height="7" stroke="#1fb6c6" stroke-width="1" fill="none"/>
<rect x="1461" y="758" width="7" height="7" stroke="#1fb6c6" stroke-width="1" fill="none"/>
<line x1="1402" y1="549" x2="1402" y2="744" stroke="#1fb6c6" stroke-width="1"/>
<line x1="1418" y1="546" x2="1418" y2="747" stroke="#1fb6c6" stroke-width="1"/>
<line x1="1436" y1="541" x2="1436" y2="752" stroke="#1fb6c6" stroke-width="1"/>
<line x1="1453" y1="535" x2="1453" y2="758" stroke="#1fb6c6" stroke-width="1"/>
<path d="M409 563.5 L375.6 563.5 A151.6 151.6 0 0 0 375.6 866.7 L544 866.7" stroke="#1fb6c6" stroke-width="1" fill="none"/>
<path d="M482 623.9 A195.5 195.5 0 0 0 482 806.1" stroke="#1fb6c6" stroke-width="1" fill="none"/>
<path d="M497.1 631.8 A178.5 178.5 0 0 0 497.1 798.2" stroke="#1fb6c6" stroke-width="1" fill="none"/>
<path d="M512.1 639.7 A161.5 161.5 0 0 0 512.1 790.3" stroke="#1fb6c6" stroke-width="1" fill="none"/>
<path d="M526.7 647.4 A145 145 0 0 0 526.7 782.6" stroke="#1fb6c6" stroke-width="1" fill="none"/>
<path d="M544 648 L526.7 648 L482.4 624" stroke="#1fb6c6" stroke-width="1" fill="none"/>
<path d="M544 783 L526.7 783 L482.4 806" stroke="#1fb6c6" stroke-width="1" fill="none"/>
<line x1="376.8" y1="1063" x2="376.8" y2="1364" stroke="#1fb6c6" stroke-width="1.4" stroke-dasharray="9 5"/>
<line x1="381.2" y1="1063" x2="381.2" y2="1364" stroke="#1fb6c6" stroke-width="1.4" stroke-dasharray="9 5"/>
<line x1="375" y1="1081" x2="375" y2="1346" stroke="#1fb6c6" stroke-width="1"/>
<line x1="375" y1="1080.8" x2="545" y2="1080.8" stroke="#1fb6c6" stroke-width="1"/>
<line x1="375" y1="1346.4" x2="545" y2="1346.4" stroke="#1fb6c6" stroke-width="1"/>
<line x1="389" y1="1085.3" x2="544" y2="1085.3" stroke="#d0d0d8" stroke-width="1"/>
<line x1="389" y1="1341.8" x2="544" y2="1341.8" stroke="#d0d0d8" stroke-width="1"/>
<line x1="358.4" y1="1079.8" x2="544.2" y2="1079.8" stroke="#1fb6c6" stroke-width="1.4" stroke-dasharray="9 5"/>
<line x1="358.4" y1="1083.2" x2="544.2" y2="1083.2" stroke="#1fb6c6" stroke-width="1.4" stroke-dasharray="9 5"/>
<line x1="358.4" y1="1104" x2="544.2" y2="1104" stroke="#1fb6c6" stroke-width="1.4" stroke-dasharray="9 5"/>
<line x1="358.4" y1="1107.4" x2="544.2" y2="1107.4" stroke="#1fb6c6" stroke-width="1.4" stroke-dasharray="9 5"/>
<line x1="358.4" y1="1127.8" x2="544.2" y2="1127.8" stroke="#1fb6c6" stroke-width="1.4" stroke-dasharray="9 5"/>
<line x1="358.4" y1="1131.2" x2="544.2" y2="1131.2" stroke="#1fb6c6" stroke-width="1.4" stroke-dasharray="9 5"/>
<line x1="358.4" y1="1151.6" x2="544.2" y2="1151.6" stroke="#1fb6c6" stroke-width="1.4" stroke-dasharray="9 5"/>
<line x1="358.4" y1="1155" x2="544.2" y2="1155" stroke="#1fb6c6" stroke-width="1.4" stroke-dasharray="9 5"/>
<line x1="358.4" y1="1175.8" x2="544.2" y2="1175.8" stroke="#1fb6c6" stroke-width="1.4" stroke-dasharray="9 5"/>
<line x1="358.4" y1="1179.2" x2="544.2" y2="1179.2" stroke="#1fb6c6" stroke-width="1.4" stroke-dasharray="9 5"/>
<line x1="358.4" y1="1199.6" x2="544.2" y2="1199.6" stroke="#1fb6c6" stroke-width="1.4" stroke-dasharray="9 5"/>
<line x1="358.4" y1="1203" x2="544.2" y2="1203" stroke="#1fb6c6" stroke-width="1.4" stroke-dasharray="9 5"/>
<line x1="358.4" y1="1224.1" x2="544.2" y2="1224.1" stroke="#1fb6c6" stroke-width="1.4" stroke-dasharray="9 5"/>
<line x1="358.4" y1="1227.5" x2="544.2" y2="1227.5" stroke="#1fb6c6" stroke-width="1.4" stroke-dasharray="9 5"/>
<line x1="358.4" y1="1247.9" x2="544.2" y2="1247.9" stroke="#1fb6c6" stroke-width="1.4" stroke-dasharray="9 5"/>
<line x1="358.4" y1="1251.3" x2="544.2" y2="1251.3" stroke="#1fb6c6" stroke-width="1.4" stroke-dasharray="9 5"/>
<line x1="358.4" y1="1271.7" x2="544.2" y2="1271.7" stroke="#1fb6c6" stroke-width="1.4" stroke-dasharray="9 5"/>
<line x1="358.4" y1="1275.1" x2="544.2" y2="1275.1" stroke="#1fb6c6" stroke-width="1.4" stroke-dasharray="9 5"/>
<line x1="358.4" y1="1295.9" x2="544.2" y2="1295.9" stroke="#1fb6c6" stroke-width="1.4" stroke-dasharray="9 5"/>
<line x1="358.4" y1="1299.3" x2="544.2" y2="1299.3" stroke="#1fb6c6" stroke-width="1.4" stroke-dasharray="9 5"/>
<line x1="358.4" y1="1319.7" x2="544.2" y2="1319.7" stroke="#1fb6c6" stroke-width="1.4" stroke-dasharray="9 5"/>
<line x1="358.4" y1="1323.1" x2="544.2" y2="1323.1" stroke="#1fb6c6" stroke-width="1.4" stroke-dasharray="9 5"/>
<line x1="358.4" y1="1343.5" x2="544.2" y2="1343.5" stroke="#1fb6c6" stroke-width="1.4" stroke-dasharray="9 5"/>
<line x1="358.4" y1="1346.9" x2="544.2" y2="1346.9" stroke="#1fb6c6" stroke-width="1.4" stroke-dasharray="9 5"/>
<rect x="376.5" y="1080.8" width="12.5" height="13.6" stroke="#1fb6c6" stroke-width="2" fill="none"/>
<rect x="376.5" y="1206.5" width="12.5" height="13.5" stroke="#1fb6c6" stroke-width="2" fill="none"/>
<rect x="376.5" y="1332.3" width="12.5" height="13.7" stroke="#1fb6c6" stroke-width="2" fill="none"/>
<rect x="461.5" y="1080.3" width="9" height="8.4" stroke="#1fb6c6" stroke-width="1.2" fill="none"/>
<rect x="461.5" y="1338" width="9" height="8.4" stroke="#1fb6c6" stroke-width="1.2" fill="none"/>
<line x1="1091.2" y1="1347" x2="1091.2" y2="1414.6" stroke="#1fb6c6" stroke-width="1"/>
<line x1="1096.2" y1="1347" x2="1096.2" y2="1405" stroke="#27d62b" stroke-width="1"/>
<line x1="1091" y1="1414.6" x2="1242" y2="1414.6" stroke="#1fb6c6" stroke-width="1"/>
<line x1="1099" y1="1410.4" x2="1234" y2="1410.4" stroke="#27d62b" stroke-width="0.9"/>
<rect x="1091.2" y="1404.8" width="8.4" height="9.8" stroke="#1fb6c6" stroke-width="1.2" fill="none"/>
<rect x="1116.4" y="1404.8" width="8.4" height="9.8" stroke="#1fb6c6" stroke-width="1.2" fill="none"/>
<rect x="1208.8" y="1404.8" width="8.4" height="9.8" stroke="#1fb6c6" stroke-width="1.2" fill="none"/>
<rect x="1234" y="1404.8" width="8.4" height="9.8" stroke="#1fb6c6" stroke-width="1.2" fill="none"/>
<path d="M973.6 1280.5 L994.5 1280.5 L994.5 1257.5 L1052 1257.5" stroke="#2cc4d8" stroke-width="1.3" fill="none"/>
<path d="M973.6 1282.5 L992.5 1282.5 L992.5 1259.5 L1052 1259.5" stroke="#2cc4d8" stroke-width="1.3" fill="none"/>
<path d="M973.6 1284.5 L990.5 1284.5 L990.5 1261.5 L1052 1261.5" stroke="#2cc4d8" stroke-width="1.3" fill="none"/>
<line x1="1292.4" y1="985" x2="1292.4" y2="1054" stroke="#1fb6c6" stroke-width="1"/>
<line x1="1307" y1="985" x2="1307" y2="1054" stroke="#1fb6c6" stroke-width="1"/>
<line x1="1363" y1="985" x2="1363" y2="1054" stroke="#1fb6c6" stroke-width="1"/>
<line x1="1377" y1="985" x2="1377" y2="1054" stroke="#1fb6c6" stroke-width="1"/>
<line x1="1391" y1="985" x2="1391" y2="1054" stroke="#1fb6c6" stroke-width="1"/>
<path d="M1506 975 L1506 942.5 L1883 942.5 L1883 975" stroke="#1fb6c6" stroke-width="1" fill="none" stroke-dasharray="10 5"/>
<path d="M1523 985 L1523 1119.8 L1675 1119.8 L1675 985" stroke="#1fb6c6" stroke-width="1" fill="none" stroke-dasharray="10 5"/>
<path d="M1713.8 985 L1713.8 1119.8 L1866 1119.8 L1866 985" stroke="#1fb6c6" stroke-width="1" fill="none" stroke-dasharray="10 5"/>
<path d="M1251.5 1347 L1256 1347 L1256 1401 L1312 1401" stroke="#1fb6c6" stroke-width="0.9" fill="none"/>
<path d="M1424 1401 L1484 1401 L1484 1385 L1893 1385 L1893 1170" stroke="#1fb6c6" stroke-width="0.9" fill="none"/>
<path d="M607 286 L692 286 L692 329 L674 329 L674 320 L683 320 L683 295 L616 295 L616 320 L624 320 L624 329 L607 329 Z" fill="url(#wl)" stroke="#cc3a3a" stroke-width="0.9" stroke-dasharray="1.2 0.8"/>
<rect x="746" y="285.5" width="8.5" height="59.5" fill="url(#wl)" stroke="#cc3a3a" stroke-width="0.9" stroke-dasharray="1.2 0.8"/>
<rect x="746" y="545" width="8.5" height="27" fill="url(#wl)" stroke="#cc3a3a" stroke-width="0.9" stroke-dasharray="1.2 0.8"/>
<rect x="746" y="285.5" width="54" height="8.5" fill="url(#wl)" stroke="#cc3a3a" stroke-width="0.9" stroke-dasharray="1.2 0.8"/>
<rect x="943.5" y="285.5" width="148.5" height="8.5" fill="url(#wl)" stroke="#cc3a3a" stroke-width="0.9" stroke-dasharray="1.2 0.8"/>
<rect x="800" y="285.5" width="143.5" height="8.5" stroke="#c23a3a" stroke-width="0.8" fill="#1c3a26"/>
<line x1="800" y1="286.7" x2="943.5" y2="286.7" stroke="#27d62b" stroke-width="1.6"/>
<line x1="800" y1="289.8" x2="943.5" y2="289.8" stroke="#27d62b" stroke-width="1.6"/>
<line x1="800" y1="292.8" x2="943.5" y2="292.8" stroke="#1fa82a" stroke-width="1.2"/>
<rect x="846" y="285.5" width="4" height="8.5" fill="url(#wl)" stroke="#cc3a3a" stroke-width="0.9" stroke-dasharray="1.2 0.8"/>
<rect x="894" y="285.5" width="4" height="8.5" fill="url(#wl)" stroke="#cc3a3a" stroke-width="0.9" stroke-dasharray="1.2 0.8"/>
<rect x="1083" y="285.5" width="9" height="76.5" fill="url(#wl)" stroke="#cc3a3a" stroke-width="0.9" stroke-dasharray="1.2 0.8"/>
<rect x="990" y="294" width="6" height="68" fill="url(#wl)" stroke="#cc3a3a" stroke-width="0.9" stroke-dasharray="1.2 0.8"/>
<rect x="990" y="356" width="23.5" height="6" fill="url(#wl)" stroke="#cc3a3a" stroke-width="0.9" stroke-dasharray="1.2 0.8"/>
<rect x="1065" y="356" width="27" height="6" fill="url(#wl)" stroke="#cc3a3a" stroke-width="0.9" stroke-dasharray="1.2 0.8"/>
<rect x="1092" y="320" width="158.7" height="8.5" fill="url(#wl)" stroke="#cc3a3a" stroke-width="0.9" stroke-dasharray="1.2 0.8"/>
<rect x="1140" y="316" width="10" height="12.5" stroke="#27d62b" stroke-width="1" fill="#14161f"/>
<rect x="1242.5" y="320" width="8.2" height="55.7" fill="url(#wl)" stroke="#cc3a3a" stroke-width="0.9" stroke-dasharray="1.2 0.8"/>
<rect x="1242.5" y="421" width="8.2" height="41" fill="url(#wl)" stroke="#cc3a3a" stroke-width="0.9" stroke-dasharray="1.2 0.8"/>
<rect x="1242.5" y="507.5" width="8.2" height="87.5" fill="url(#wl)" stroke="#cc3a3a" stroke-width="0.9" stroke-dasharray="1.2 0.8"/>
<line x1="1242.5" y1="375.7" x2="1242.5" y2="421" stroke="#d02a2a" stroke-width="1"/>
<line x1="1247.2" y1="375.7" x2="1247.2" y2="421" stroke="#27d62b" stroke-width="2.2"/>
<line x1="1251.5" y1="375.7" x2="1251.5" y2="421" stroke="#27d62b" stroke-width="1"/>
<line x1="1242.5" y1="462" x2="1242.5" y2="507.5" stroke="#d02a2a" stroke-width="1"/>
<line x1="1247.2" y1="462" x2="1247.2" y2="507.5" stroke="#27d62b" stroke-width="2.2"/>
<line x1="1251.5" y1="462" x2="1251.5" y2="507.5" stroke="#27d62b" stroke-width="1"/>
<rect x="1242.5" y="698" width="8.2" height="88.7" fill="url(#wl)" stroke="#cc3a3a" stroke-width="0.9" stroke-dasharray="1.2 0.8"/>
<rect x="1242.5" y="833.3" width="8.2" height="40" fill="url(#wl)" stroke="#cc3a3a" stroke-width="0.9" stroke-dasharray="1.2 0.8"/>
<rect x="1242.5" y="920" width="8.2" height="73.8" fill="url(#wl)" stroke="#cc3a3a" stroke-width="0.9" stroke-dasharray="1.2 0.8"/>
<line x1="1242.5" y1="786.7" x2="1242.5" y2="833.3" stroke="#d02a2a" stroke-width="1"/>
<line x1="1247.2" y1="786.7" x2="1247.2" y2="833.3" stroke="#27d62b" stroke-width="2.2"/>
<line x1="1251.5" y1="786.7" x2="1251.5" y2="833.3" stroke="#27d62b" stroke-width="1"/>
<line x1="1242.5" y1="873.3" x2="1242.5" y2="920" stroke="#d02a2a" stroke-width="1"/>
<line x1="1247.2" y1="873.3" x2="1247.2" y2="920" stroke="#27d62b" stroke-width="2.2"/>
<line x1="1251.5" y1="873.3" x2="1251.5" y2="920" stroke="#27d62b" stroke-width="1"/>
<rect x="1242.5" y="1045.6" width="8.7" height="369" fill="url(#lb)" stroke="#cc3a3a" stroke-width="0.9" stroke-dasharray="1.2 0.8"/>
<rect x="1060" y="564.5" width="190.7" height="8" fill="url(#lb)" stroke="#cc3a3a" stroke-width="0.9" stroke-dasharray="1.2 0.8"/>
<rect x="1108" y="572.5" width="6" height="15.5" fill="url(#wl)" stroke="#cc3a3a" stroke-width="0.9" stroke-dasharray="1.2 0.8"/>
<rect x="1114" y="579.5" width="34" height="5.8" fill="url(#wl)" stroke="#cc3a3a" stroke-width="0.9" stroke-dasharray="1.2 0.8"/>
<rect x="1142.7" y="572.5" width="5.3" height="12.8" fill="url(#wl)" stroke="#cc3a3a" stroke-width="0.9" stroke-dasharray="1.2 0.8"/>
<rect x="1212" y="572.5" width="5.3" height="12.8" fill="url(#wl)" stroke="#cc3a3a" stroke-width="0.9" stroke-dasharray="1.2 0.8"/>
<rect x="1217" y="579.5" width="25.5" height="5.8" fill="url(#wl)" stroke="#cc3a3a" stroke-width="0.9" stroke-dasharray="1.2 0.8"/>
<rect x="543.3" y="563.5" width="9.4" height="50" fill="url(#wl)" stroke="#cc3a3a" stroke-width="0.9" stroke-dasharray="1.2 0.8"/>
<rect x="543.3" y="817.7" width="9.4" height="83.9" fill="url(#wl)" stroke="#cc3a3a" stroke-width="0.9" stroke-dasharray="1.2 0.8"/>
<rect x="543.3" y="1043.5" width="9.4" height="75.8" fill="url(#wl)" stroke="#cc3a3a" stroke-width="0.9" stroke-dasharray="1.2 0.8"/>
<rect x="543.3" y="1221" width="9.4" height="126" fill="url(#wl)" stroke="#cc3a3a" stroke-width="0.9" stroke-dasharray="1.2 0.8"/>
<rect x="543.3" y="564" width="29.7" height="8.2" fill="url(#wl)" stroke="#cc3a3a" stroke-width="0.9" stroke-dasharray="1.2 0.8"/>
<rect x="725.4" y="564" width="29.1" height="8.2" fill="url(#wl)" stroke="#cc3a3a" stroke-width="0.9" stroke-dasharray="1.2 0.8"/>
<rect x="745.2" y="572" width="9.3" height="46" fill="url(#wl)" stroke="#cc3a3a" stroke-width="0.9" stroke-dasharray="1.2 0.8"/>
<rect x="745.2" y="812" width="9.3" height="55" fill="url(#wl)" stroke="#cc3a3a" stroke-width="0.9" stroke-dasharray="1.2 0.8"/>
<rect x="552.7" y="858.5" width="206.3" height="8.2" fill="url(#lb)" stroke="#cc3a3a" stroke-width="0.9" stroke-dasharray="1.2 0.8"/>
<rect x="544.5" y="1077" width="210.3" height="8.7" fill="url(#lb)" stroke="#cc3a3a" stroke-width="0.9" stroke-dasharray="1.2 0.8"/>
<rect x="745.8" y="866.7" width="8.4" height="15.8" fill="url(#wl)" stroke="#cc3a3a" stroke-width="0.9" stroke-dasharray="1.2 0.8"/>
<rect x="745.8" y="1056.7" width="8.4" height="29.1" fill="url(#wl)" stroke="#cc3a3a" stroke-width="0.9" stroke-dasharray="1.2 0.8"/>
<rect x="755" y="1030" width="6" height="6" fill="url(#wl)" stroke="#cc3a3a" stroke-width="0.9" stroke-dasharray="1.2 0.8"/>
<rect x="810" y="1030" width="6.8" height="6" fill="url(#wl)" stroke="#cc3a3a" stroke-width="0.9" stroke-dasharray="1.2 0.8"/>
<rect x="544.5" y="1338.5" width="24.5" height="8.5" fill="url(#wl)" stroke="#cc3a3a" stroke-width="0.9" stroke-dasharray="1.2 0.8"/>
<rect x="614" y="1338.5" width="163" height="8.5" fill="url(#wl)" stroke="#cc3a3a" stroke-width="0.9" stroke-dasharray="1.2 0.8"/>
<rect x="821" y="1338.5" width="91" height="8.5" fill="url(#wl)" stroke="#cc3a3a" stroke-width="0.9" stroke-dasharray="1.2 0.8"/>
<rect x="957" y="1338.5" width="44.6" height="8.5" fill="url(#wl)" stroke="#cc3a3a" stroke-width="0.9" stroke-dasharray="1.2 0.8"/>
<rect x="1096.8" y="1338.5" width="25.2" height="8.5" fill="url(#wl)" stroke="#cc3a3a" stroke-width="0.9" stroke-dasharray="1.2 0.8"/>
<rect x="1211.6" y="1338.5" width="39.4" height="8.5" fill="url(#wl)" stroke="#cc3a3a" stroke-width="0.9" stroke-dasharray="1.2 0.8"/>
<rect x="569" y="1338.5" width="45" height="8.5" stroke="#c23a3a" stroke-width="0.8" fill="#1c3a26"/>
<line x1="569" y1="1339.7" x2="614" y2="1339.7" stroke="#27d62b" stroke-width="1.6"/>
<line x1="569" y1="1342.8" x2="614" y2="1342.8" stroke="#27d62b" stroke-width="1.6"/>
<line x1="569" y1="1345.8" x2="614" y2="1345.8" stroke="#1fa82a" stroke-width="1.2"/>
<rect x="777" y="1338.5" width="44" height="8.5" stroke="#c23a3a" stroke-width="0.8" fill="#1c3a26"/>
<line x1="777" y1="1339.7" x2="821" y2="1339.7" stroke="#27d62b" stroke-width="1.6"/>
<line x1="777" y1="1342.8" x2="821" y2="1342.8" stroke="#27d62b" stroke-width="1.6"/>
<line x1="777" y1="1345.8" x2="821" y2="1345.8" stroke="#1fa82a" stroke-width="1.2"/>
<rect x="912" y="1338.5" width="45" height="8.5" stroke="#c23a3a" stroke-width="0.8" fill="#1c3a26"/>
<line x1="912" y1="1339.7" x2="957" y2="1339.7" stroke="#27d62b" stroke-width="1.6"/>
<line x1="912" y1="1342.8" x2="957" y2="1342.8" stroke="#27d62b" stroke-width="1.6"/>
<line x1="912" y1="1345.8" x2="957" y2="1345.8" stroke="#1fa82a" stroke-width="1.2"/>
<rect x="1122" y="1338.5" width="89.6" height="8.5" stroke="#c23a3a" stroke-width="0.8" fill="#1c3a26"/>
<line x1="1122" y1="1339.7" x2="1211.6" y2="1339.7" stroke="#27d62b" stroke-width="1.6"/>
<line x1="1122" y1="1342.8" x2="1211.6" y2="1342.8" stroke="#27d62b" stroke-width="1.6"/>
<line x1="1122" y1="1345.8" x2="1211.6" y2="1345.8" stroke="#1fa82a" stroke-width="1.2"/>
<rect x="1163.4" y="1338.5" width="4" height="8.5" fill="url(#wl)" stroke="#cc3a3a" stroke-width="0.9" stroke-dasharray="1.2 0.8"/>
<rect x="816.8" y="868" width="6.2" height="212" fill="url(#wl)" stroke="#cc3a3a" stroke-width="0.9" stroke-dasharray="1.2 0.8"/>
<path d="M816.8 1076 L823 1076 L829 1086 L824 1090 L816.8 1082 Z" fill="url(#wl)" stroke="#cc3a3a" stroke-width="0.9" stroke-dasharray="1.2 0.8"/>
<path d="M866 1126 L871.5 1131 L846 1162 L840 1157 Z" fill="url(#wl)" stroke="#cc3a3a" stroke-width="0.9" stroke-dasharray="1.2 0.8"/>
<rect x="816.8" y="908.8" width="295.2" height="6.8" fill="url(#lb)" stroke="#cc3a3a" stroke-width="0.9" stroke-dasharray="1.2 0.8"/>
<rect x="911.5" y="872" width="5.8" height="36.8" fill="url(#wl)" stroke="#cc3a3a" stroke-width="0.9" stroke-dasharray="1.2 0.8"/>
<rect x="1012.5" y="872" width="5.5" height="36.8" fill="url(#wl)" stroke="#cc3a3a" stroke-width="0.9" stroke-dasharray="1.2 0.8"/>
<rect x="911.5" y="872" width="24.5" height="6.7" fill="url(#wl)" stroke="#cc3a3a" stroke-width="0.9" stroke-dasharray="1.2 0.8"/>
<rect x="994.7" y="872" width="23.3" height="6.7" fill="url(#wl)" stroke="#cc3a3a" stroke-width="0.9" stroke-dasharray="1.2 0.8"/>
<rect x="931" y="915.6" width="6.2" height="149.2" fill="url(#wl)" stroke="#cc3a3a" stroke-width="0.9" stroke-dasharray="1.2 0.8"/>
<rect x="1046.4" y="915.6" width="5.6" height="166" fill="url(#lb)" stroke="#cc3a3a" stroke-width="0.9" stroke-dasharray="1.2 0.8"/>
<rect x="816.8" y="1062" width="235.2" height="6.2" fill="url(#lb)" stroke="#cc3a3a" stroke-width="0.9" stroke-dasharray="1.2 0.8"/>
<rect x="1108.5" y="736" width="5.5" height="179.6" fill="url(#lb)" stroke="#cc3a3a" stroke-width="0.9" stroke-dasharray="1.2 0.8"/>
<rect x="1114" y="888" width="67" height="6.7" fill="url(#wl)" stroke="#cc3a3a" stroke-width="0.9" stroke-dasharray="1.2 0.8"/>
<rect x="1174.7" y="868" width="6.3" height="50.7" fill="url(#wl)" stroke="#cc3a3a" stroke-width="0.9" stroke-dasharray="1.2 0.8"/>
<rect x="1052" y="1015.8" width="86.8" height="5.6" fill="url(#wl)" stroke="#cc3a3a" stroke-width="0.9" stroke-dasharray="1.2 0.8"/>
<rect x="1175" y="970" width="6.7" height="11.7" fill="url(#wl)" stroke="#cc3a3a" stroke-width="0.9" stroke-dasharray="1.2 0.8"/>
<rect x="1135.8" y="1021.4" width="5.9" height="5.3" fill="url(#wl)" stroke="#cc3a3a" stroke-width="0.9" stroke-dasharray="1.2 0.8"/>
<rect x="1135.8" y="1065" width="5.9" height="6.7" fill="url(#wl)" stroke="#cc3a3a" stroke-width="0.9" stroke-dasharray="1.2 0.8"/>
<path d="M1136.5 1016 L1176 972.8 L1180.5 977 L1141 1021.4 Z" fill="url(#wl)" stroke="#cc3a3a" stroke-width="0.9" stroke-dasharray="1.2 0.8"/>
<rect x="1091.2" y="1021" width="5.6" height="52" fill="url(#wl)" stroke="#cc3a3a" stroke-width="0.9" stroke-dasharray="1.2 0.8"/>
<rect x="1052" y="1070.4" width="95.2" height="6.5" fill="url(#wl)" stroke="#cc3a3a" stroke-width="0.9" stroke-dasharray="1.2 0.8"/>
<rect x="1197.6" y="1071.8" width="44.9" height="5.6" fill="url(#wl)" stroke="#cc3a3a" stroke-width="0.9" stroke-dasharray="1.2 0.8"/>
<rect x="1197.6" y="1077" width="5.4" height="4.6" fill="url(#wl)" stroke="#cc3a3a" stroke-width="0.9" stroke-dasharray="1.2 0.8"/>
<rect x="1203.2" y="1127.8" width="39.3" height="5.6" fill="url(#wl)" stroke="#cc3a3a" stroke-width="0.9" stroke-dasharray="1.2 0.8"/>
<rect x="1203" y="1122.2" width="6" height="5.8" fill="url(#wl)" stroke="#cc3a3a" stroke-width="0.9" stroke-dasharray="1.2 0.8"/>
<rect x="842" y="1155.8" width="210" height="6.5" fill="url(#lb)" stroke="#cc3a3a" stroke-width="0.9" stroke-dasharray="1.2 0.8"/>
<rect x="1046.4" y="1132" width="5.6" height="70" fill="url(#wl)" stroke="#cc3a3a" stroke-width="0.9" stroke-dasharray="1.2 0.8"/>
<rect x="837.8" y="1160" width="7" height="60.2" fill="url(#lb)" stroke="#cc3a3a" stroke-width="0.9" stroke-dasharray="1.2 0.8"/>
<rect x="837.8" y="1271.8" width="6.4" height="67.2" fill="url(#wl)" stroke="#cc3a3a" stroke-width="0.9" stroke-dasharray="1.2 0.8"/>
<rect x="844" y="1279.4" width="14.2" height="8.4" fill="url(#wl)" stroke="#cc3a3a" stroke-width="0.9" stroke-dasharray="1.2 0.8"/>
<rect x="959.6" y="1279" width="14" height="9" fill="url(#wl)" stroke="#cc3a3a" stroke-width="0.9" stroke-dasharray="1.2 0.8"/>
<rect x="967.4" y="1288" width="6.2" height="51" fill="url(#wl)" stroke="#cc3a3a" stroke-width="0.9" stroke-dasharray="1.2 0.8"/>
<rect x="1046" y="1201.5" width="62" height="6.1" fill="url(#wl)" stroke="#cc3a3a" stroke-width="0.9" stroke-dasharray="1.2 0.8"/>
<rect x="1102.4" y="1201" width="5.6" height="138" fill="url(#wl)" stroke="#cc3a3a" stroke-width="0.9" stroke-dasharray="1.2 0.8"/>
<rect x="1251" y="975.6" width="45.6" height="9.2" fill="url(#wl)" stroke="#cc3a3a" stroke-width="0.9" stroke-dasharray="1.2 0.8"/>
<rect x="1340" y="975.6" width="91" height="9.2" fill="url(#wl)" stroke="#cc3a3a" stroke-width="0.9" stroke-dasharray="1.2 0.8"/>
<rect x="1481" y="975.6" width="41" height="9.2" fill="url(#wl)" stroke="#cc3a3a" stroke-width="0.9" stroke-dasharray="1.2 0.8"/>
<rect x="1296.6" y="975.6" width="43.4" height="9.2" stroke="#c23a3a" stroke-width="0.8" fill="#1c3a26"/>
<line x1="1296.6" y1="976.8" x2="1340" y2="976.8" stroke="#27d62b" stroke-width="1.6"/>
<line x1="1296.6" y1="980.2" x2="1340" y2="980.2" stroke="#27d62b" stroke-width="1.6"/>
<line x1="1296.6" y1="983.6" x2="1340" y2="983.6" stroke="#1fa82a" stroke-width="1.2"/>
<rect x="1678" y="976" width="35" height="9.4" fill="url(#wl)" stroke="#cc3a3a" stroke-width="0.9" stroke-dasharray="1.2 0.8"/>
<rect x="1868" y="976" width="37" height="9.4" fill="url(#wl)" stroke="#cc3a3a" stroke-width="0.9" stroke-dasharray="1.2 0.8"/>
<rect x="1895" y="976" width="10" height="103" fill="url(#wl)" stroke="#cc3a3a" stroke-width="0.9" stroke-dasharray="1.2 0.8"/>
<rect x="1895" y="1125" width="10" height="123.5" fill="url(#wl)" stroke="#cc3a3a" stroke-width="0.9" stroke-dasharray="1.2 0.8"/>
<rect x="1895" y="1293" width="10" height="104" fill="url(#wl)" stroke="#cc3a3a" stroke-width="0.9" stroke-dasharray="1.2 0.8"/>
<rect x="1895" y="1079" width="10" height="46" stroke="#c23a3a" stroke-width="0.8" fill="#1c3a26"/>
<line x1="1896.2" y1="1079" x2="1896.2" y2="1125" stroke="#27d62b" stroke-width="1.6"/>
<line x1="1900" y1="1079" x2="1900" y2="1125" stroke="#27d62b" stroke-width="1.6"/>
<line x1="1903.8" y1="1079" x2="1903.8" y2="1125" stroke="#1fa82a" stroke-width="1.2"/>
<rect x="1895" y="1248.5" width="10" height="44.5" stroke="#c23a3a" stroke-width="0.8" fill="#1c3a26"/>
<line x1="1896.2" y1="1248.5" x2="1896.2" y2="1293" stroke="#27d62b" stroke-width="1.6"/>
<line x1="1900" y1="1248.5" x2="1900" y2="1293" stroke="#27d62b" stroke-width="1.6"/>
<line x1="1903.8" y1="1248.5" x2="1903.8" y2="1293" stroke="#1fa82a" stroke-width="1.2"/>
<rect x="1486.7" y="1386.8" width="88.8" height="10.2" fill="url(#wl)" stroke="#cc3a3a" stroke-width="0.9" stroke-dasharray="1.2 0.8"/>
<rect x="1621.7" y="1386.8" width="145.3" height="10.2" fill="url(#wl)" stroke="#cc3a3a" stroke-width="0.9" stroke-dasharray="1.2 0.8"/>
<rect x="1812" y="1386.8" width="92.8" height="10.2" fill="url(#wl)" stroke="#cc3a3a" stroke-width="0.9" stroke-dasharray="1.2 0.8"/>
<rect x="1575.5" y="1386.8" width="46.2" height="10.2" stroke="#c23a3a" stroke-width="0.8" fill="#1c3a26"/>
<line x1="1575.5" y1="1388" x2="1621.7" y2="1388" stroke="#27d62b" stroke-width="1.6"/>
<line x1="1575.5" y1="1391.9" x2="1621.7" y2="1391.9" stroke="#27d62b" stroke-width="1.6"/>
<line x1="1575.5" y1="1395.8" x2="1621.7" y2="1395.8" stroke="#1fa82a" stroke-width="1.2"/>
<rect x="1767" y="1386.8" width="45" height="10.2" stroke="#c23a3a" stroke-width="0.8" fill="#1c3a26"/>
<line x1="1767" y1="1388" x2="1812" y2="1388" stroke="#27d62b" stroke-width="1.6"/>
<line x1="1767" y1="1391.9" x2="1812" y2="1391.9" stroke="#27d62b" stroke-width="1.6"/>
<line x1="1767" y1="1395.8" x2="1812" y2="1395.8" stroke="#1fa82a" stroke-width="1.2"/>
<rect x="1486" y="985" width="7" height="84.4" fill="url(#lb)" stroke="#cc3a3a" stroke-width="0.9" stroke-dasharray="1.2 0.8"/>
<rect x="1486" y="1119.8" width="7" height="40.6" fill="url(#lb)" stroke="#cc3a3a" stroke-width="0.9" stroke-dasharray="1.2 0.8"/>
<rect x="1486" y="1275.8" width="8" height="137.2" fill="url(#lb)" stroke="#cc3a3a" stroke-width="0.9" stroke-dasharray="1.2 0.8"/>
<rect x="1242.5" y="1403.4" width="70.3" height="10" fill="url(#wl)" stroke="#cc3a3a" stroke-width="0.9" stroke-dasharray="1.2 0.8"/>
<rect x="1423.8" y="1403.4" width="72.2" height="10" fill="url(#wl)" stroke="#cc3a3a" stroke-width="0.9" stroke-dasharray="1.2 0.8"/>
<rect x="1486" y="1386.8" width="10" height="26.6" fill="url(#wl)" stroke="#cc3a3a" stroke-width="0.9" stroke-dasharray="1.2 0.8"/>
<rect x="1251" y="1126.8" width="140.8" height="7.9" fill="url(#lb)" stroke="#cc3a3a" stroke-width="0.9" stroke-dasharray="1.2 0.8"/>
<rect x="1384.8" y="1127" width="7" height="40.4" fill="url(#lb)" stroke="#cc3a3a" stroke-width="0.9" stroke-dasharray="1.2 0.8"/>
<rect x="1385" y="1161" width="101" height="6.4" fill="url(#lb)" stroke="#cc3a3a" stroke-width="0.9" stroke-dasharray="1.2 0.8"/>
<rect x="1251" y="1054" width="55.4" height="7" fill="url(#wl)" stroke="#cc3a3a" stroke-width="0.9" stroke-dasharray="1.2 0.8"/>
<line x1="754" y1="320.5" x2="1083" y2="320.5" stroke="#b6b6c2" stroke-width="1"/>
<line x1="754" y1="327.5" x2="1083" y2="327.5" stroke="#b6b6c2" stroke-width="1"/>
<line x1="754" y1="324" x2="1083" y2="324" stroke="#d2d2dc" stroke-width="1.3" stroke-dasharray="13 3 2.5 3"/>
<line x1="885.8" y1="327.5" x2="885.8" y2="565" stroke="#b6b6c2" stroke-width="1"/>
<line x1="891.2" y1="327.5" x2="891.2" y2="565" stroke="#b6b6c2" stroke-width="1"/>
<line x1="888.5" y1="327.5" x2="888.5" y2="565" stroke="#d2d2dc" stroke-width="1.3" stroke-dasharray="13 3 2.5 3"/>
<line x1="931" y1="327.5" x2="931" y2="565" stroke="#b6b6c2" stroke-width="1"/>
<line x1="936.5" y1="327.5" x2="936.5" y2="565" stroke="#b6b6c2" stroke-width="1"/>
<line x1="933.7" y1="327.5" x2="933.7" y2="565" stroke="#d2d2dc" stroke-width="1.3" stroke-dasharray="13 3 2.5 3"/>
<line x1="1035.2" y1="327.5" x2="1035.2" y2="565" stroke="#b6b6c2" stroke-width="1"/>
<line x1="1040.8" y1="327.5" x2="1040.8" y2="565" stroke="#b6b6c2" stroke-width="1"/>
<line x1="1038" y1="327.5" x2="1038" y2="565" stroke="#d2d2dc" stroke-width="1.3" stroke-dasharray="13 3 2.5 3"/>
<line x1="1074.5" y1="327.5" x2="1074.5" y2="565" stroke="#b6b6c2" stroke-width="1"/>
<line x1="1080" y1="327.5" x2="1080" y2="565" stroke="#b6b6c2" stroke-width="1"/>
<line x1="1077.3" y1="327.5" x2="1077.3" y2="565" stroke="#d2d2dc" stroke-width="1.3" stroke-dasharray="13 3 2.5 3"/>
<line x1="746.5" y1="350" x2="746.5" y2="541" stroke="#b6b6c2" stroke-width="1"/>
<line x1="754" y1="350" x2="754" y2="541" stroke="#b6b6c2" stroke-width="1"/>
<line x1="749" y1="350" x2="749" y2="541" stroke="#c4c4ce" stroke-width="1" stroke-dasharray="6 3 2 3 2 3"/>
<line x1="751.6" y1="350" x2="751.6" y2="541" stroke="#c4c4ce" stroke-width="1" stroke-dasharray="6 3 2 3 2 3"/>
<line x1="754" y1="565.2" x2="1060" y2="565.2" stroke="#b6b6c2" stroke-width="1"/>
<line x1="754" y1="572.2" x2="1060" y2="572.2" stroke="#b6b6c2" stroke-width="1"/>
<line x1="754" y1="568.7" x2="1060" y2="568.7" stroke="#d2d2dc" stroke-width="1.3" stroke-dasharray="13 3 2.5 3"/>
<line x1="573" y1="564.5" x2="725.4" y2="564.5" stroke="#b6b6c2" stroke-width="1"/>
<line x1="573" y1="571.5" x2="725.4" y2="571.5" stroke="#b6b6c2" stroke-width="1"/>
<line x1="573" y1="566.7" x2="725.4" y2="566.7" stroke="#c4c4ce" stroke-width="1" stroke-dasharray="6 3 2 3 2 3"/>
<line x1="573" y1="569.3" x2="725.4" y2="569.3" stroke="#c4c4ce" stroke-width="1" stroke-dasharray="6 3 2 3 2 3"/>
<line x1="544" y1="613.5" x2="544" y2="817.7" stroke="#b6b6c2" stroke-width="1"/>
<line x1="552" y1="613.5" x2="552" y2="817.7" stroke="#b6b6c2" stroke-width="1"/>
<line x1="546.7" y1="613.5" x2="546.7" y2="817.7" stroke="#c4c4ce" stroke-width="1" stroke-dasharray="6 3 2 3 2 3"/>
<line x1="549.3" y1="613.5" x2="549.3" y2="817.7" stroke="#c4c4ce" stroke-width="1" stroke-dasharray="6 3 2 3 2 3"/>
<line x1="746" y1="618" x2="746" y2="812" stroke="#b6b6c2" stroke-width="1"/>
<line x1="754" y1="618" x2="754" y2="812" stroke="#b6b6c2" stroke-width="1"/>
<line x1="748.7" y1="618" x2="748.7" y2="812" stroke="#c4c4ce" stroke-width="1" stroke-dasharray="6 3 2 3 2 3"/>
<line x1="751.3" y1="618" x2="751.3" y2="812" stroke="#c4c4ce" stroke-width="1" stroke-dasharray="6 3 2 3 2 3"/>
<line x1="1108.5" y1="588" x2="1108.5" y2="736" stroke="#b6b6c2" stroke-width="1"/>
<line x1="1114" y1="588" x2="1114" y2="736" stroke="#b6b6c2" stroke-width="1"/>
<line x1="1111.2" y1="588" x2="1111.2" y2="736" stroke="#d2d2dc" stroke-width="1.3" stroke-dasharray="13 3 2.5 3"/>
<line x1="816" y1="861.5" x2="1112" y2="861.5" stroke="#b6b6c2" stroke-width="1"/>
<line x1="816" y1="868.5" x2="1112" y2="868.5" stroke="#b6b6c2" stroke-width="1"/>
<line x1="816" y1="865" x2="1112" y2="865" stroke="#d2d2dc" stroke-width="1.3" stroke-dasharray="13 3 2.5 3"/>
<line x1="1114" y1="782.8" x2="1242.5" y2="782.8" stroke="#b6b6c2" stroke-width="1"/>
<line x1="1114" y1="787.8" x2="1242.5" y2="787.8" stroke="#b6b6c2" stroke-width="1"/>
<line x1="1114" y1="785.3" x2="1242.5" y2="785.3" stroke="#d2d2dc" stroke-width="1.3" stroke-dasharray="13 3 2.5 3"/>
<line x1="1243" y1="597" x2="1243" y2="697" stroke="#b6b6c2" stroke-width="1"/>
<line x1="1250" y1="597" x2="1250" y2="697" stroke="#b6b6c2" stroke-width="1"/>
<line x1="1245.2" y1="597" x2="1245.2" y2="697" stroke="#c4c4ce" stroke-width="1" stroke-dasharray="6 3 2 3 2 3"/>
<line x1="1247.8" y1="597" x2="1247.8" y2="697" stroke="#c4c4ce" stroke-width="1" stroke-dasharray="6 3 2 3 2 3"/>
<line x1="1250.5" y1="597" x2="1250.5" y2="697" stroke="#27d62b" stroke-width="1.3"/>
<line x1="1243" y1="597" x2="1243" y2="697" stroke="#27d62b" stroke-width="1"/>
<line x1="1177" y1="748" x2="1177" y2="918" stroke="#c8c8d2" stroke-width="1"/>
<line x1="1181" y1="748" x2="1181" y2="918" stroke="#c8c8d2" stroke-width="1"/>
<circle cx="1180" cy="747.5" r="3.5" stroke="#c8c8d2" stroke-width="1" fill="none"/>
<line x1="755" y1="1062.5" x2="1052" y2="1062.5" stroke="#b6b6c2" stroke-width="1"/>
<line x1="755" y1="1067.5" x2="1052" y2="1067.5" stroke="#b6b6c2" stroke-width="1"/>
<line x1="755" y1="1065" x2="1052" y2="1065" stroke="#d2d2dc" stroke-width="1.3" stroke-dasharray="13 3 2.5 3"/>
<line x1="746" y1="882.5" x2="746" y2="1056.7" stroke="#b6b6c2" stroke-width="1"/>
<line x1="754" y1="882.5" x2="754" y2="1056.7" stroke="#b6b6c2" stroke-width="1"/>
<line x1="748.7" y1="882.5" x2="748.7" y2="1056.7" stroke="#c4c4ce" stroke-width="1" stroke-dasharray="6 3 2 3 2 3"/>
<line x1="751.3" y1="882.5" x2="751.3" y2="1056.7" stroke="#c4c4ce" stroke-width="1" stroke-dasharray="6 3 2 3 2 3"/>
<line x1="748.7" y1="905" x2="748.7" y2="1035" stroke="#2fbf6a" stroke-width="1.6" stroke-dasharray="7 4" opacity="0.8"/>
<line x1="1372" y1="326" x2="1372" y2="975" stroke="#b6b6c2" stroke-width="1"/>
<line x1="1381" y1="326" x2="1381" y2="975" stroke="#b6b6c2" stroke-width="1"/>
<line x1="1375.2" y1="326" x2="1375.2" y2="975" stroke="#c4c4ce" stroke-width="1" stroke-dasharray="6 3 2 3 2 3"/>
<line x1="1377.8" y1="326" x2="1377.8" y2="975" stroke="#c4c4ce" stroke-width="1" stroke-dasharray="6 3 2 3 2 3"/>
<line x1="1251" y1="326.8" x2="1380" y2="326.8" stroke="#b6b6c2" stroke-width="1"/>
<line x1="1251" y1="332.2" x2="1380" y2="332.2" stroke="#b6b6c2" stroke-width="1"/>
<line x1="1251" y1="329.5" x2="1380" y2="329.5" stroke="#d2d2dc" stroke-width="1.3" stroke-dasharray="13 3 2.5 3"/>
<line x1="1251" y1="405.8" x2="1380" y2="405.8" stroke="#b6b6c2" stroke-width="1"/>
<line x1="1251" y1="411.2" x2="1380" y2="411.2" stroke="#b6b6c2" stroke-width="1"/>
<line x1="1251" y1="408.5" x2="1380" y2="408.5" stroke="#d2d2dc" stroke-width="1.3" stroke-dasharray="13 3 2.5 3"/>
<line x1="1251" y1="472.6" x2="1380" y2="472.6" stroke="#b6b6c2" stroke-width="1"/>
<line x1="1251" y1="478.1" x2="1380" y2="478.1" stroke="#b6b6c2" stroke-width="1"/>
<line x1="1251" y1="475.3" x2="1380" y2="475.3" stroke="#d2d2dc" stroke-width="1.3" stroke-dasharray="13 3 2.5 3"/>
<line x1="1251" y1="611.5" x2="1380" y2="611.5" stroke="#b6b6c2" stroke-width="1"/>
<line x1="1251" y1="617" x2="1380" y2="617" stroke="#b6b6c2" stroke-width="1"/>
<line x1="1251" y1="614.3" x2="1380" y2="614.3" stroke="#d2d2dc" stroke-width="1.3" stroke-dasharray="13 3 2.5 3"/>
<line x1="1251" y1="678.8" x2="1380" y2="678.8" stroke="#b6b6c2" stroke-width="1"/>
<line x1="1251" y1="684.2" x2="1380" y2="684.2" stroke="#b6b6c2" stroke-width="1"/>
<line x1="1251" y1="681.5" x2="1380" y2="681.5" stroke="#d2d2dc" stroke-width="1.3" stroke-dasharray="13 3 2.5 3"/>
<line x1="1251" y1="817" x2="1380" y2="817" stroke="#b6b6c2" stroke-width="1"/>
<line x1="1251" y1="822.5" x2="1380" y2="822.5" stroke="#b6b6c2" stroke-width="1"/>
<line x1="1251" y1="819.7" x2="1380" y2="819.7" stroke="#d2d2dc" stroke-width="1.3" stroke-dasharray="13 3 2.5 3"/>
<line x1="1251" y1="884.8" x2="1380" y2="884.8" stroke="#b6b6c2" stroke-width="1"/>
<line x1="1251" y1="890.2" x2="1380" y2="890.2" stroke="#b6b6c2" stroke-width="1"/>
<line x1="1251" y1="887.5" x2="1380" y2="887.5" stroke="#d2d2dc" stroke-width="1.3" stroke-dasharray="13 3 2.5 3"/>
<line x1="1251" y1="783" x2="1380" y2="783" stroke="#b6b6c2" stroke-width="1"/>
<line x1="1251" y1="788" x2="1380" y2="788" stroke="#b6b6c2" stroke-width="1"/>
<line x1="1251" y1="785.5" x2="1380" y2="785.5" stroke="#d2d2dc" stroke-width="1.3" stroke-dasharray="13 3 2.5 3"/>
<line x1="578.6" y1="1085.7" x2="578.6" y2="1338.5" stroke="#b6b6c2" stroke-width="1"/>
<line x1="586.6" y1="1085.7" x2="586.6" y2="1338.5" stroke="#b6b6c2" stroke-width="1"/>
<line x1="581.3" y1="1085.7" x2="581.3" y2="1338.5" stroke="#c4c4ce" stroke-width="1" stroke-dasharray="6 3 2 3 2 3"/>
<line x1="583.9" y1="1085.7" x2="583.9" y2="1338.5" stroke="#c4c4ce" stroke-width="1" stroke-dasharray="6 3 2 3 2 3"/>
<line x1="805.3" y1="1068" x2="805.3" y2="1338.5" stroke="#b6b6c2" stroke-width="1"/>
<line x1="813.3" y1="1068" x2="813.3" y2="1338.5" stroke="#b6b6c2" stroke-width="1"/>
<line x1="808" y1="1068" x2="808" y2="1338.5" stroke="#c4c4ce" stroke-width="1" stroke-dasharray="6 3 2 3 2 3"/>
<line x1="810.6" y1="1068" x2="810.6" y2="1338.5" stroke="#c4c4ce" stroke-width="1" stroke-dasharray="6 3 2 3 2 3"/>
<line x1="578" y1="1112.5" x2="813" y2="1112.5" stroke="#b6b6c2" stroke-width="1"/>
<line x1="578" y1="1120" x2="813" y2="1120" stroke="#b6b6c2" stroke-width="1"/>
<line x1="578" y1="1115" x2="813" y2="1115" stroke="#c4c4ce" stroke-width="1" stroke-dasharray="6 3 2 3 2 3"/>
<line x1="578" y1="1117.6" x2="813" y2="1117.6" stroke="#c4c4ce" stroke-width="1" stroke-dasharray="6 3 2 3 2 3"/>
<line x1="578" y1="1304" x2="813" y2="1304" stroke="#b6b6c2" stroke-width="1"/>
<line x1="578" y1="1311.5" x2="813" y2="1311.5" stroke="#b6b6c2" stroke-width="1"/>
<line x1="578" y1="1306.4" x2="813" y2="1306.4" stroke="#c4c4ce" stroke-width="1" stroke-dasharray="6 3 2 3 2 3"/>
<line x1="578" y1="1309" x2="813" y2="1309" stroke="#c4c4ce" stroke-width="1" stroke-dasharray="6 3 2 3 2 3"/>
<line x1="869.5" y1="1068" x2="869.5" y2="1339" stroke="#b6b6c2" stroke-width="1"/>
<line x1="875.5" y1="1068" x2="875.5" y2="1339" stroke="#b6b6c2" stroke-width="1"/>
<line x1="872.5" y1="1068" x2="872.5" y2="1339" stroke="#d2d2dc" stroke-width="1.3" stroke-dasharray="13 3 2.5 3"/>
<line x1="1052" y1="976.5" x2="1242.5" y2="976.5" stroke="#b6b6c2" stroke-width="1"/>
<line x1="1052" y1="981.5" x2="1242.5" y2="981.5" stroke="#b6b6c2" stroke-width="1"/>
<line x1="1052" y1="979" x2="1242.5" y2="979" stroke="#d2d2dc" stroke-width="1.3" stroke-dasharray="13 3 2.5 3"/>
<line x1="1052" y1="1189.3" x2="1242.5" y2="1189.3" stroke="#b6b6c2" stroke-width="1"/>
<line x1="1052" y1="1194.3" x2="1242.5" y2="1194.3" stroke="#b6b6c2" stroke-width="1"/>
<line x1="1052" y1="1191.8" x2="1242.5" y2="1191.8" stroke="#d2d2dc" stroke-width="1.3" stroke-dasharray="13 3 2.5 3"/>
<line x1="1046.2" y1="1207" x2="1046.2" y2="1339" stroke="#b6b6c2" stroke-width="1"/>
<line x1="1051.8" y1="1207" x2="1051.8" y2="1339" stroke="#b6b6c2" stroke-width="1"/>
<line x1="1049" y1="1207" x2="1049" y2="1339" stroke="#d2d2dc" stroke-width="1.3" stroke-dasharray="13 3 2.5 3"/>
<line x1="1081.4" y1="915.6" x2="1081.4" y2="976" stroke="#b6b6c2" stroke-width="1"/>
<line x1="1087.4" y1="915.6" x2="1087.4" y2="976" stroke="#b6b6c2" stroke-width="1"/>
<line x1="1084.4" y1="915.6" x2="1084.4" y2="976" stroke="#d2d2dc" stroke-width="1.3" stroke-dasharray="13 3 2.5 3"/>
<line x1="1001.6" y1="1338.7" x2="1096.8" y2="1338.7" stroke="#b6b6c2" stroke-width="1"/>
<line x1="1001.6" y1="1346.7" x2="1096.8" y2="1346.7" stroke="#b6b6c2" stroke-width="1"/>
<line x1="1001.6" y1="1341.4" x2="1096.8" y2="1341.4" stroke="#c4c4ce" stroke-width="1" stroke-dasharray="6 3 2 3 2 3"/>
<line x1="1001.6" y1="1344" x2="1096.8" y2="1344" stroke="#c4c4ce" stroke-width="1" stroke-dasharray="6 3 2 3 2 3"/>
<line x1="1493" y1="1160" x2="1895" y2="1160" stroke="#b6b6c2" stroke-width="1"/>
<line x1="1493" y1="1169" x2="1895" y2="1169" stroke="#b6b6c2" stroke-width="1"/>
<line x1="1493" y1="1163.2" x2="1895" y2="1163.2" stroke="#c4c4ce" stroke-width="1" stroke-dasharray="6 3 2 3 2 3"/>
<line x1="1493" y1="1165.8" x2="1895" y2="1165.8" stroke="#c4c4ce" stroke-width="1" stroke-dasharray="6 3 2 3 2 3"/>
<line x1="1562" y1="985" x2="1562" y2="1160" stroke="#b6b6c2" stroke-width="1"/>
<line x1="1568" y1="985" x2="1568" y2="1160" stroke="#b6b6c2" stroke-width="1"/>
<line x1="1563.7" y1="985" x2="1563.7" y2="1160" stroke="#c4c4ce" stroke-width="1" stroke-dasharray="6 3 2 3 2 3"/>
<line x1="1566.3" y1="985" x2="1566.3" y2="1160" stroke="#c4c4ce" stroke-width="1" stroke-dasharray="6 3 2 3 2 3"/>
<line x1="1629.5" y1="985" x2="1629.5" y2="1160" stroke="#b6b6c2" stroke-width="1"/>
<line x1="1635.5" y1="985" x2="1635.5" y2="1160" stroke="#b6b6c2" stroke-width="1"/>
<line x1="1631.2" y1="985" x2="1631.2" y2="1160" stroke="#c4c4ce" stroke-width="1" stroke-dasharray="6 3 2 3 2 3"/>
<line x1="1633.8" y1="985" x2="1633.8" y2="1160" stroke="#c4c4ce" stroke-width="1" stroke-dasharray="6 3 2 3 2 3"/>
<line x1="1753" y1="985" x2="1753" y2="1160" stroke="#b6b6c2" stroke-width="1"/>
<line x1="1759" y1="985" x2="1759" y2="1160" stroke="#b6b6c2" stroke-width="1"/>
<line x1="1754.7" y1="985" x2="1754.7" y2="1160" stroke="#c4c4ce" stroke-width="1" stroke-dasharray="6 3 2 3 2 3"/>
<line x1="1757.3" y1="985" x2="1757.3" y2="1160" stroke="#c4c4ce" stroke-width="1" stroke-dasharray="6 3 2 3 2 3"/>
<line x1="1820.8" y1="985" x2="1820.8" y2="1160" stroke="#b6b6c2" stroke-width="1"/>
<line x1="1826.8" y1="985" x2="1826.8" y2="1160" stroke="#b6b6c2" stroke-width="1"/>
<line x1="1822.5" y1="985" x2="1822.5" y2="1160" stroke="#c4c4ce" stroke-width="1" stroke-dasharray="6 3 2 3 2 3"/>
<line x1="1825.1" y1="985" x2="1825.1" y2="1160" stroke="#c4c4ce" stroke-width="1" stroke-dasharray="6 3 2 3 2 3"/>
<line x1="1521" y1="976.2" x2="1678" y2="976.2" stroke="#b6b6c2" stroke-width="1"/>
<line x1="1521" y1="985.2" x2="1678" y2="985.2" stroke="#b6b6c2" stroke-width="1"/>
<line x1="1521" y1="979.4" x2="1678" y2="979.4" stroke="#c4c4ce" stroke-width="1" stroke-dasharray="6 3 2 3 2 3"/>
<line x1="1521" y1="982" x2="1678" y2="982" stroke="#c4c4ce" stroke-width="1" stroke-dasharray="6 3 2 3 2 3"/>
<line x1="1713" y1="976.2" x2="1868" y2="976.2" stroke="#b6b6c2" stroke-width="1"/>
<line x1="1713" y1="985.2" x2="1868" y2="985.2" stroke="#b6b6c2" stroke-width="1"/>
<line x1="1713" y1="979.4" x2="1868" y2="979.4" stroke="#c4c4ce" stroke-width="1" stroke-dasharray="6 3 2 3 2 3"/>
<line x1="1713" y1="982" x2="1868" y2="982" stroke="#c4c4ce" stroke-width="1" stroke-dasharray="6 3 2 3 2 3"/>
<line x1="1312.8" y1="1404.4" x2="1423.8" y2="1404.4" stroke="#b6b6c2" stroke-width="1"/>
<line x1="1312.8" y1="1412.4" x2="1423.8" y2="1412.4" stroke="#b6b6c2" stroke-width="1"/>
<line x1="1312.8" y1="1407.1" x2="1423.8" y2="1407.1" stroke="#c4c4ce" stroke-width="1" stroke-dasharray="6 3 2 3 2 3"/>
<line x1="1312.8" y1="1409.7" x2="1423.8" y2="1409.7" stroke="#c4c4ce" stroke-width="1" stroke-dasharray="6 3 2 3 2 3"/>
<line x1="754.5" y1="297" x2="790" y2="297" stroke="#cfcf3a" stroke-width="1"/>
<line x1="754.5" y1="302" x2="790" y2="302" stroke="#cfcf3a" stroke-width="1"/>
<line x1="754.5" y1="307" x2="790" y2="307" stroke="#cfcf3a" stroke-width="1"/>
<line x1="754.5" y1="312" x2="790" y2="312" stroke="#cfcf3a" stroke-width="1"/>
<line x1="754.5" y1="317" x2="790" y2="317" stroke="#cfcf3a" stroke-width="1"/>
<line x1="954" y1="297" x2="990" y2="297" stroke="#cfcf3a" stroke-width="1"/>
<line x1="954" y1="302" x2="990" y2="302" stroke="#cfcf3a" stroke-width="1"/>
<line x1="954" y1="307" x2="990" y2="307" stroke="#cfcf3a" stroke-width="1"/>
<line x1="954" y1="312" x2="990" y2="312" stroke="#cfcf3a" stroke-width="1"/>
<line x1="954" y1="317" x2="990" y2="317" stroke="#cfcf3a" stroke-width="1"/>
<line x1="790" y1="294" x2="790" y2="320" stroke="#cfcf3a" stroke-width="1"/>
<line x1="954" y1="294" x2="954" y2="320" stroke="#cfcf3a" stroke-width="1"/>
<line x1="754.5" y1="320.5" x2="990" y2="320.5" stroke="#b8b86a" stroke-width="2"/>
<path d="M1008 356 L1008 314 L1070 314 L1070 356" stroke="#cfcf3a" stroke-width="1" fill="none"/>
<line x1="1092" y1="333" x2="1242" y2="333" stroke="#cfcf3a" stroke-width="1"/>
<line x1="1092" y1="338" x2="1242" y2="338" stroke="#cfcf3a" stroke-width="1"/>
<line x1="1092" y1="343" x2="1242" y2="343" stroke="#cfcf3a" stroke-width="1"/>
<line x1="1092" y1="348" x2="1242" y2="348" stroke="#cfcf3a" stroke-width="1"/>
<line x1="1092" y1="362" x2="1242" y2="362" stroke="#cfcf3a" stroke-width="1"/>
<line x1="1200" y1="346" x2="1200" y2="362" stroke="#cfcf3a" stroke-width="1"/>
<line x1="1200" y1="346" x2="1242" y2="346" stroke="#cfcf3a" stroke-width="1"/>
<rect x="1124.5" y="328.5" width="42.5" height="33.5" stroke="#27d62b" stroke-width="1.2" fill="#24293d"/>
<line x1="1124.5" y1="328.5" x2="1167" y2="348" stroke="#27d62b" stroke-width="0.9"/>
<line x1="1167" y1="328.5" x2="1124.5" y2="348" stroke="#27d62b" stroke-width="0.9"/>
<line x1="1124.5" y1="348" x2="1167" y2="348" stroke="#27d62b" stroke-width="1"/>
<circle cx="1132.5" cy="355" r="4" stroke="#27d62b" stroke-width="1.2" fill="#1b8a2a"/>
<circle cx="1158" cy="355" r="4" stroke="#27d62b" stroke-width="1.2" fill="#1b8a2a"/>
<rect x="1142" y="351.5" width="7" height="7" stroke="#27d62b" stroke-width="1" fill="#1b8a2a"/>
<path d="M1091 423 L1181 423 L1181 467 L1099 467 L1091 459 Z" stroke="#cfcf3a" stroke-width="1" fill="none"/>
<path d="M973.6 429.3 L973.6 509.6 L1033.6 569.6" stroke="#cfcf3a" stroke-width="1" fill="none"/>
<path d="M973.6 429.3 L1029.6 429.3 L1029.6 485.6 L1072.8 529.6 L1188.8 529.6" stroke="#cfcf3a" stroke-width="1" fill="none"/>
<path d="M995.2 429.3 L995.2 499 L1059 563" stroke="#cfcf3a" stroke-width="1" fill="none"/>
<path d="M1058.4 562.4 L1073.6 547.2 L1242 547.2" stroke="#cfcf3a" stroke-width="1" fill="none"/>
<line x1="1068" y1="552.8" x2="1242" y2="552.8" stroke="#cfcf3a" stroke-width="1"/>
<line x1="1063.2" y1="557.6" x2="1242" y2="557.6" stroke="#cfcf3a" stroke-width="1"/>
<line x1="1189.6" y1="529.6" x2="1189.6" y2="547.2" stroke="#27d62b" stroke-width="1.2"/>
<rect x="1189.6" y="521.6" width="52" height="25.6" stroke="#27d62b" stroke-width="1.4" fill="none"/>
<line x1="1029.6" y1="431" x2="1029.6" y2="465.6" stroke="#27d62b" stroke-width="1.6"/>
<g transform="rotate(45 1040 520)"><rect x="1022" y="510" width="38" height="22" fill="none" stroke="#27d62b" stroke-width="1"/><rect x="1024" y="512" width="16" height="18" fill="none" stroke="#27d62b" stroke-width="1"/><rect x="1042" y="512" width="16" height="18" fill="none" stroke="#27d62b" stroke-width="1"/></g>
<circle cx="1033" cy="509.5" r="1.3" stroke="#27d62b" stroke-width="0" fill="#27d62b"/>
<circle cx="1050" cy="527" r="1.3" stroke="#27d62b" stroke-width="0" fill="#27d62b"/>
<rect x="661.7" y="824.7" width="83.3" height="33.8" stroke="#cfcf3a" stroke-width="1" fill="none"/>
<line x1="661.7" y1="841" x2="745" y2="841" stroke="#cfcf3a" stroke-width="1"/>
<line x1="661.7" y1="847" x2="745" y2="847" stroke="#cfcf3a" stroke-width="1"/>
<line x1="661.7" y1="852.7" x2="745" y2="852.7" stroke="#cfcf3a" stroke-width="1"/>
<rect x="671.7" y="828" width="26.8" height="13" stroke="#27d62b" stroke-width="1.2" fill="none"/>
<rect x="674.5" y="830.5" width="21.5" height="10.5" stroke="#27d62b" stroke-width="1" fill="none"/>
<circle cx="685.5" cy="838.5" r="1.3" stroke="#27d62b" stroke-width="0" fill="#27d62b"/>
<path d="M709 841 L709 823.5 L745 823.5" stroke="#27d62b" stroke-width="1.2" fill="none"/>
<line x1="709" y1="826" x2="709" y2="841" stroke="#1fb6c6" stroke-width="0.9" stroke-dasharray="4 3"/>
<line x1="823" y1="875.5" x2="911" y2="875.5" stroke="#cfcf3a" stroke-width="1"/>
<line x1="1018" y1="875.5" x2="1108" y2="875.5" stroke="#cfcf3a" stroke-width="1"/>
<line x1="823" y1="891.5" x2="911" y2="891.5" stroke="#cfcf3a" stroke-width="1"/>
<line x1="1018" y1="891.5" x2="1108" y2="891.5" stroke="#cfcf3a" stroke-width="1"/>
<line x1="823" y1="897" x2="911" y2="897" stroke="#cfcf3a" stroke-width="1"/>
<line x1="1018" y1="897" x2="1108" y2="897" stroke="#cfcf3a" stroke-width="1"/>
<line x1="823" y1="904" x2="911" y2="904" stroke="#cfcf3a" stroke-width="1"/>
<line x1="1018" y1="904" x2="1108" y2="904" stroke="#cfcf3a" stroke-width="1"/>
<line x1="1102.7" y1="885.3" x2="1139" y2="875.7" stroke="#cfcf3a" stroke-width="1.1"/>
<path d="M1139 875.7 L1141 869 L1146 879 L1148 873.5" stroke="#cfcf3a" stroke-width="1.1" fill="none"/>
<line x1="1148" y1="873.5" x2="1186.7" y2="863.5" stroke="#cfcf3a" stroke-width="1.1"/>
<line x1="1114" y1="918" x2="1175" y2="918" stroke="#cfcf3a" stroke-width="1"/>
<path d="M838.6 1062 L838.6 931.8 L914.3 931.8 L914.3 1062" stroke="#cfcf3a" stroke-width="1" fill="none"/>
<path d="M954 1062 L954 931.8 L1029.6 931.8 L1029.6 1020 L1046 1020" stroke="#cfcf3a" stroke-width="1" fill="none"/>
<rect x="1052" y="915.6" width="34.2" height="49.8" stroke="#cfcf3a" stroke-width="1" fill="none"/>
<ellipse cx="1069" cy="940" rx="14" ry="17" stroke="#d8d8de" stroke-width="1" fill="none"/>
<ellipse cx="1069.5" cy="940" rx="11.3" ry="14" stroke="#d8d8de" stroke-width="0.8" fill="none"/>
<line x1="1058" y1="965" x2="1058" y2="1015" stroke="#cfcf3a" stroke-width="0.9"/>
<line x1="1068.3" y1="1021.7" x2="1068.3" y2="1071.7" stroke="#cfcf3a" stroke-width="1"/>
<line x1="1113.3" y1="1021.7" x2="1113.3" y2="1071.7" stroke="#cfcf3a" stroke-width="1"/>
<line x1="845" y1="1195" x2="1046.4" y2="1195" stroke="#cfcf3a" stroke-width="1"/>
<line x1="1012.3" y1="1162.3" x2="1012.3" y2="1195" stroke="#cfcf3a" stroke-width="1"/>
<line x1="1012.3" y1="1171" x2="1046" y2="1171" stroke="#cfcf3a" stroke-width="1"/>
<line x1="1012.3" y1="1176.8" x2="1046" y2="1176.8" stroke="#cfcf3a" stroke-width="1"/>
<line x1="1012.3" y1="1183.3" x2="1046" y2="1183.3" stroke="#cfcf3a" stroke-width="1"/>
<line x1="1012.3" y1="1189.4" x2="1046" y2="1189.4" stroke="#cfcf3a" stroke-width="1"/>
<line x1="872.8" y1="1139" x2="1046" y2="1139" stroke="#cfcf3a" stroke-width="0.9"/>
<line x1="872.8" y1="1146" x2="1046" y2="1146" stroke="#cfcf3a" stroke-width="0.9"/>
<ellipse cx="886.8" cy="1178.2" rx="16.2" ry="13.4" stroke="#d8d8de" stroke-width="1" fill="none"/>
<ellipse cx="886.8" cy="1178.2" rx="13.5" ry="10.8" stroke="#d8d8de" stroke-width="0.8" fill="none"/>
<rect x="883.8" y="1163.5" width="6" height="2.5" stroke="#d8d8de" stroke-width="0.8" fill="none"/>
<ellipse cx="970.8" cy="1178.2" rx="16.2" ry="13.4" stroke="#d8d8de" stroke-width="1" fill="none"/>
<ellipse cx="970.8" cy="1178.2" rx="13.5" ry="10.8" stroke="#d8d8de" stroke-width="0.8" fill="none"/>
<rect x="967.8" y="1163.5" width="6" height="2.5" stroke="#d8d8de" stroke-width="0.8" fill="none"/>
<rect x="1052" y="1139" width="33.6" height="60.2" stroke="#cfcf3a" stroke-width="1" fill="none"/>
<line x1="1056.8" y1="1139" x2="1056.8" y2="1199" stroke="#cfcf3a" stroke-width="1"/>
<line x1="1063.2" y1="1139" x2="1063.2" y2="1199" stroke="#cfcf3a" stroke-width="1"/>
<line x1="1068.8" y1="1139" x2="1068.8" y2="1199" stroke="#cfcf3a" stroke-width="1"/>
<rect x="1068.3" y="1157.2" width="14.5" height="23.8" stroke="#27d62b" stroke-width="1.2" fill="none"/>
<rect x="1070.5" y="1160" width="12.3" height="18" stroke="#27d62b" stroke-width="1" fill="none"/>
<circle cx="1071.5" cy="1170" r="1.3" stroke="#27d62b" stroke-width="0" fill="#27d62b"/>
<line x1="1225.6" y1="1077" x2="1225.6" y2="1337" stroke="#cfcf3a" stroke-width="1"/>
<line x1="1232.7" y1="1077" x2="1232.7" y2="1337" stroke="#cfcf3a" stroke-width="1"/>
<line x1="1236.8" y1="1077" x2="1236.8" y2="1337" stroke="#cfcf3a" stroke-width="1"/>
<line x1="1225.6" y1="1080" x2="1225.6" y2="1133" stroke="#d8d8de" stroke-width="0.8"/>
<rect x="1201" y="1136.2" width="24.6" height="50.4" stroke="#27d62b" stroke-width="1.4" fill="none"/>
<rect x="1204.6" y="1196.4" width="21" height="28" stroke="#27d62b" stroke-width="1.2" fill="none"/>
<rect x="1201" y="1234.2" width="24.6" height="42" stroke="#27d62b" stroke-width="1.2" fill="none"/>
<rect x="1201" y="1186.6" width="24.6" height="47.4" stroke="#27d62b" stroke-width="0.9" fill="none"/>
<rect x="1208" y="1205" width="2.5" height="6" stroke="#27d62b" stroke-width="1" fill="#27d62b"/>
<path d="M1108 1304 L1208.8 1304 L1208.8 1278.8 L1225.6 1278.8" stroke="#cfcf3a" stroke-width="1" fill="none"/>
<rect x="1362.4" y="1054" width="29.4" height="73" stroke="#cc2a2a" stroke-width="1.2" fill="none"/>
<path d="M1363 1127 L1363 1061 L1385 1061 L1385 1127" stroke="#cfcf3a" stroke-width="1" fill="none"/>
<line x1="1363" y1="1058" x2="1391" y2="1058" stroke="#cc2a2a" stroke-width="1"/>
<line x1="1391.8" y1="1127" x2="1486" y2="1127" stroke="#cfcf3a" stroke-width="1"/>
<line x1="1391.8" y1="1144" x2="1486" y2="1144" stroke="#cfcf3a" stroke-width="1"/>
<line x1="1391.8" y1="1150.6" x2="1486" y2="1150.6" stroke="#cfcf3a" stroke-width="1"/>
<line x1="1391.8" y1="1156" x2="1486" y2="1156" stroke="#cfcf3a" stroke-width="1"/>
<rect x="1293" y="985" width="72" height="3" fill="url(#oh)" stroke="#1fb6c6" stroke-width="0.7"/>
<rect x="1368" y="985" width="57.4" height="8.4" fill="url(#oh)" stroke="#1fb6c6" stroke-width="0.7"/>
<rect x="1491" y="985" width="29.6" height="8.4" fill="url(#oh)" stroke="#1fb6c6" stroke-width="0.7"/>
<rect x="1678" y="985.4" width="35" height="8" fill="url(#oh)" stroke="#1fb6c6" stroke-width="0.7"/>
<rect x="1868" y="985.4" width="27" height="8" fill="url(#oh)" stroke="#1fb6c6" stroke-width="0.7"/>
<rect x="1887" y="993" width="8" height="392" fill="url(#oh)"/>
<rect x="1494" y="1381.5" width="401" height="4.5" fill="url(#oh)"/>
<rect x="1256" y="1399.5" width="56" height="3.5" fill="url(#oh)"/>
<rect x="1424" y="1399.5" width="62" height="3.5" fill="url(#oh)"/>
<rect x="1252" y="1347" width="3.5" height="56" fill="url(#oh)"/>
<line x1="1516" y1="965" x2="1872.5" y2="965" stroke="#27d62b" stroke-width="1.2"/>
<line x1="1516" y1="965" x2="1516" y2="976" stroke="#27d62b" stroke-width="1"/>
<line x1="1872.5" y1="965" x2="1872.5" y2="976" stroke="#27d62b" stroke-width="1"/>
<line x1="1516" y1="965" x2="1524" y2="976" stroke="#27d62b" stroke-width="0.9"/>
<line x1="1872.5" y1="965" x2="1864" y2="976" stroke="#27d62b" stroke-width="0.9"/>
<line x1="1521" y1="986.5" x2="1678" y2="986.5" stroke="#27d62b" stroke-width="1"/>
<line x1="1713" y1="986.5" x2="1868" y2="986.5" stroke="#27d62b" stroke-width="1"/>
<line x1="543.5" y1="421" x2="543.5" y2="471" stroke="#27d62b" stroke-width="1.4"/>
<path d="M543.5 421 Q541 446 543.5 471" stroke="#27d62b" stroke-width="1" fill="none"/>
<path d="M551.2 421.6 L579.2 463.1 L580.8 461.9 L552.8 420.4 Z" stroke="#27d62b" stroke-width="1" fill="none"/>
<path d="M580 462.5 A50.1 50.1 0 0 1 559.8 470.5" stroke="#27d62b" stroke-width="1" fill="none"/>
<line x1="746" y1="350" x2="746" y2="541" stroke="#27d62b" stroke-width="1.6"/>
<path d="M745.1 349.5 L721.1 389.5 L722.9 390.5 L746.9 350.5 Z" stroke="#27d62b" stroke-width="1" fill="none"/>
<path d="M722 390 A46.6 46.6 0 0 0 738 396" stroke="#27d62b" stroke-width="1" fill="none"/>
<path d="M746.9 445.5 L722.9 405.5 L721.1 406.5 L745.1 446.5 Z" stroke="#27d62b" stroke-width="1" fill="none"/>
<path d="M722 406 A46.6 46.6 0 0 1 738 400" stroke="#27d62b" stroke-width="1" fill="none"/>
<path d="M745.1 445.5 L721.1 485 L722.9 486 L746.9 446.5 Z" stroke="#27d62b" stroke-width="1" fill="none"/>
<path d="M722 485.5 A46.2 46.2 0 0 0 738 491.5" stroke="#27d62b" stroke-width="1" fill="none"/>
<path d="M746.9 540.5 L722.9 501 L721.1 502 L745.1 541.5 Z" stroke="#27d62b" stroke-width="1" fill="none"/>
<path d="M722 501.5 A46.2 46.2 0 0 1 738 495.5" stroke="#27d62b" stroke-width="1" fill="none"/>
<line x1="745.2" y1="618" x2="745.2" y2="812" stroke="#27d62b" stroke-width="1.6"/>
<path d="M753.7 618.5 L779.2 658.5 L780.8 657.5 L755.3 617.5 Z" stroke="#27d62b" stroke-width="1" fill="none"/>
<path d="M780 658 A47.4 47.4 0 0 1 762.1 664.8" stroke="#27d62b" stroke-width="1" fill="none"/>
<path d="M755.3 714.5 L780.8 674.5 L779.2 673.5 L753.7 713.5 Z" stroke="#27d62b" stroke-width="1" fill="none"/>
<path d="M780 674 A47.4 47.4 0 0 0 762.1 667.2" stroke="#27d62b" stroke-width="1" fill="none"/>
<path d="M753.7 714.5 L779.2 755.5 L780.8 754.5 L755.3 713.5 Z" stroke="#27d62b" stroke-width="1" fill="none"/>
<path d="M780 755 A48.3 48.3 0 0 1 762.1 761.7" stroke="#27d62b" stroke-width="1" fill="none"/>
<path d="M755.3 812.5 L780.8 771.5 L779.2 770.5 L753.7 811.5 Z" stroke="#27d62b" stroke-width="1" fill="none"/>
<path d="M780 771 A48.3 48.3 0 0 0 762.1 764.3" stroke="#27d62b" stroke-width="1" fill="none"/>
<line x1="573" y1="564.2" x2="725.4" y2="564.2" stroke="#27d62b" stroke-width="1.4"/>
<line x1="573" y1="566.8" x2="725.4" y2="566.8" stroke="#35c83a" stroke-width="2.4" opacity="0.8"/>
<path d="M637 577 L668 577" stroke="#27d62b" stroke-width="1.2" fill="none"/>
<path d="M668 577 L660 578.6 L660 575.4 Z" fill="#27d62b"/>
<line x1="543.5" y1="613.5" x2="543.5" y2="817.7" stroke="#27d62b" stroke-width="1.4"/>
<line x1="546.3" y1="613.5" x2="546.3" y2="817.7" stroke="#35c83a" stroke-width="2.2" opacity="0.8"/>
<path d="M535.5 708 L535.5 672" stroke="#27d62b" stroke-width="1.2" fill="none"/>
<path d="M535.5 672 L537.1 680 L533.9 680 Z" fill="#27d62b"/>
<path d="M535.5 724 L535.5 760" stroke="#27d62b" stroke-width="1.2" fill="none"/>
<path d="M535.5 760 L533.9 752 L537.1 752 Z" fill="#27d62b"/>
<line x1="542.3" y1="901.6" x2="542.3" y2="1043.5" stroke="#27d62b" stroke-width="1.3"/>
<rect x="543.8" y="901.6" width="4.5" height="141.9" stroke="#27d62b" stroke-width="1.2" fill="#1f8a2a"/>
<line x1="552.5" y1="901.6" x2="552.5" y2="1043.5" stroke="#cc2a2a" stroke-width="1"/>
<rect x="544" y="945" width="7" height="4" stroke="#c08a8a" stroke-width="0.5" fill="#a88"/>
<rect x="544" y="994" width="7" height="4" stroke="#c08a8a" stroke-width="0.5" fill="#a88"/>
<line x1="542.8" y1="1119.3" x2="542.8" y2="1221" stroke="#27d62b" stroke-width="1"/>
<line x1="548" y1="1119.3" x2="548" y2="1170" stroke="#27d62b" stroke-width="2.6"/>
<line x1="545.5" y1="1170" x2="545.5" y2="1221" stroke="#27d62b" stroke-width="2.6"/>
<line x1="548" y1="1170" x2="545.5" y2="1170" stroke="#27d62b" stroke-width="1"/>
<path d="M558.7 1127.5 L558.7 1163" stroke="#27d62b" stroke-width="1.3" fill="none"/>
<path d="M558.7 1163 L557.1 1155 L560.3 1155 Z" fill="#27d62b"/>
<path d="M1013 359.8 L1033.5 372.8 L1034.5 371.2 L1014 358.2 Z" stroke="#27d62b" stroke-width="1" fill="none"/>
<path d="M1034 372 A24.3 24.3 0 0 0 1037.6 362" stroke="#27d62b" stroke-width="1" fill="none"/>
<path d="M1064.5 358.1 L1043.5 371.1 L1044.5 372.9 L1065.5 359.9 Z" stroke="#27d62b" stroke-width="1" fill="none"/>
<path d="M1044 372 A24.7 24.7 0 0 1 1040.5 361.9" stroke="#27d62b" stroke-width="1" fill="none"/>
<rect x="393.7" y="1226.5" width="102.3" height="100.8" stroke="#27d62b" stroke-width="1.2" fill="none"/>
<rect x="403.8" y="1235" width="84" height="83.7" stroke="#27d62b" stroke-width="1.2" fill="none"/>
<rect x="644.6" y="1222.7" width="101.6" height="112.1" stroke="#27d62b" stroke-width="1.1" fill="none"/>
<rect x="576.7" y="1312.4" width="32.4" height="22.4" stroke="#27d62b" stroke-width="1.1" fill="none"/>
<rect x="780.9" y="1312.4" width="35.5" height="22.4" stroke="#27d62b" stroke-width="1.1" fill="none"/>
<rect x="648.3" y="1088.3" width="142" height="23.5" stroke="#27d62b" stroke-width="1.1" fill="none"/>
<path d="M654.4 1312 L654.4 1324.4 L689.6 1324.4 L689.6 1312" stroke="#27d62b" stroke-width="1" fill="none"/>
<path d="M700 1312 L700 1324.4 L737 1324.4 L737 1312" stroke="#27d62b" stroke-width="1" fill="none"/>
<rect x="652" y="1281.6" width="19.6" height="27.4" stroke="#27d62b" stroke-width="1" fill="none"/>
<line x1="644.6" y1="1227" x2="746.2" y2="1227" stroke="#27d62b" stroke-width="1"/>
<rect x="1053.4" y="976.6" width="11.2" height="28" stroke="#27d62b" stroke-width="1.6" fill="none"/>
<ellipse cx="1082" cy="990.5" rx="14.5" ry="12" stroke="#27d62b" stroke-width="1.6" fill="none"/>
<ellipse cx="1080.5" cy="990.5" rx="10.5" ry="8.6" stroke="#27d62b" stroke-width="0.9" fill="none"/>
<rect x="846.2" y="1298.4" width="11.2" height="29.4" stroke="#27d62b" stroke-width="1.6" fill="none"/>
<ellipse cx="875" cy="1313.3" rx="14" ry="11.8" stroke="#27d62b" stroke-width="1.6" fill="none"/>
<ellipse cx="873" cy="1313.3" rx="10.5" ry="8.6" stroke="#27d62b" stroke-width="0.9" fill="none"/>
<rect x="996" y="1263.6" width="106.4" height="74" stroke="#27d62b" stroke-width="1" fill="none"/>
<line x1="996" y1="1263.6" x2="1102.4" y2="1337.6" stroke="#27d62b" stroke-width="1"/>
<line x1="1102.4" y1="1263.6" x2="996" y2="1337.6" stroke="#27d62b" stroke-width="1"/>
<rect x="1251" y="1061" width="51" height="66" stroke="#27d62b" stroke-width="1" fill="none"/>
<line x1="1251" y1="1061" x2="1302" y2="1127" stroke="#27d62b" stroke-width="1"/>
<line x1="1302" y1="1061" x2="1251" y2="1127" stroke="#27d62b" stroke-width="1"/>
<circle cx="1276.5" cy="1094" r="2" stroke="#27d62b" stroke-width="1" fill="none"/>
<line x1="1306.4" y1="1061" x2="1306.4" y2="1127" stroke="#27d62b" stroke-width="1"/>
<path d="M1174.3 920.1 L1150.5 963.5 L1152.3 964.5 L1176.1 921.1 Z" stroke="#27d62b" stroke-width="1" fill="none"/>
<path d="M1151.4 964 A49.5 49.5 0 0 0 1177.9 970" stroke="#27d62b" stroke-width="1" fill="none"/>
<path d="M811.2 1032.1 L766.2 1058.1 L767.2 1059.9 L812.2 1033.9 Z" stroke="#27d62b" stroke-width="1" fill="none"/>
<path d="M766.7 1059 A52 52 0 0 1 759.7 1033" stroke="#27d62b" stroke-width="1" fill="none"/>
<path d="M1047 1026.5 L1026 1060.1 L1027.6 1061.1 L1048.6 1027.5 Z" stroke="#27d62b" stroke-width="1" fill="none"/>
<path d="M1026.8 1060.6 A39.6 39.6 0 0 0 1046 1066.6" stroke="#27d62b" stroke-width="1" fill="none"/>
<path d="M1048.3 1083.5 L1074.9 1126.9 L1076.7 1125.9 L1050.1 1082.5 Z" stroke="#27d62b" stroke-width="1" fill="none"/>
<path d="M1075.8 1126.4 A50.9 50.9 0 0 1 1052 1133.8" stroke="#27d62b" stroke-width="1" fill="none"/>
<path d="M1244.6 1044.7 L1218 1002.7 L1216.4 1003.7 L1243 1045.7 Z" stroke="#27d62b" stroke-width="1" fill="none"/>
<path d="M1217.2 1003.2 A49.7 49.7 0 0 1 1243 995.5" stroke="#27d62b" stroke-width="1" fill="none"/>
<line x1="1251.8" y1="993.8" x2="1251.8" y2="1045.6" stroke="#27d62b" stroke-width="1"/>
<path d="M1197.1 1075.1 L1154.5 1100.3 L1155.5 1102.1 L1198.1 1076.9 Z" stroke="#27d62b" stroke-width="1" fill="none"/>
<path d="M1155 1101.2 A49.5 49.5 0 0 1 1148.1 1078" stroke="#27d62b" stroke-width="1" fill="none"/>
<path d="M1203.7 1079.7 L1184.1 1114.7 L1185.9 1115.7 L1205.5 1080.7 Z" stroke="#27d62b" stroke-width="1" fill="none"/>
<path d="M1185 1115.2 A40.1 40.1 0 0 0 1204 1120.3" stroke="#27d62b" stroke-width="1" fill="none"/>
<path d="M842.8 1271.1 L870.8 1227.7 L869.2 1226.7 L841.2 1270.1 Z" stroke="#27d62b" stroke-width="1" fill="none"/>
<path d="M870 1227.2 A51.6 51.6 0 0 0 842 1219" stroke="#27d62b" stroke-width="1" fill="none"/>
<path d="M1139.1 1027.5 L1159.1 1060.5 L1160.9 1059.5 L1140.9 1026.5 Z" stroke="#27d62b" stroke-width="1" fill="none"/>
<path d="M1160 1060 A38.6 38.6 0 0 1 1140.5 1065.6" stroke="#27d62b" stroke-width="1" fill="none"/>
<path d="M823.8 1088.6 L849 1095.6 L853.2 1104 L857.4 1101.2 L863 1123.6" stroke="#27d62b" stroke-width="1.6" fill="none"/>
<path d="M1243.1 622.2 L1217.8 664.5 L1219.6 665.5 L1244.9 623.2 Z" stroke="#27d62b" stroke-width="1" fill="none"/>
<path d="M1218.7 665 A49.3 49.3 0 0 0 1242.2 672" stroke="#27d62b" stroke-width="1" fill="none"/>
<line x1="909.2" y1="1283.6" x2="934.4" y2="1283.6" stroke="#27d62b" stroke-width="1.6"/>
<rect x="858" y="1279.4" width="51.2" height="8.4" stroke="#cc2a2a" stroke-width="1" fill="none"/>
<line x1="884" y1="1283.6" x2="909" y2="1283.6" stroke="#1fb6c6" stroke-width="2.2" stroke-dasharray="7 4"/>
<line x1="1431" y1="975" x2="1481" y2="975" stroke="#27d62b" stroke-width="1"/>
<line x1="1431" y1="975" x2="1431" y2="985" stroke="#27d62b" stroke-width="1"/>
<line x1="1481" y1="975" x2="1481" y2="985" stroke="#27d62b" stroke-width="1"/>
<path d="M1480.5 984.1 L1437.5 1007.1 L1438.5 1008.9 L1481.5 985.9 Z" stroke="#27d62b" stroke-width="1" fill="none"/>
<path d="M1438 1008 A48.8 48.8 0 0 1 1432.5 990" stroke="#27d62b" stroke-width="1" fill="none"/>
<line x1="1493.5" y1="1069.4" x2="1493.5" y2="1119.8" stroke="#27d62b" stroke-width="1.2"/>
<path d="M1485.1 1068.9 L1462.1 1111.5 L1463.9 1112.5 L1486.9 1069.9 Z" stroke="#27d62b" stroke-width="1" fill="none"/>
<path d="M1463 1112 A48.4 48.4 0 0 0 1480.2 1117.5" stroke="#27d62b" stroke-width="1" fill="none"/>
<line x1="1494" y1="1170" x2="1494" y2="1275.8" stroke="#1fb6c6" stroke-width="1.2"/>
<path d="M1485.2 1169.5 L1458.2 1212.5 L1459.8 1213.5 L1486.8 1170.5 Z" stroke="#27d62b" stroke-width="1" fill="none"/>
<path d="M1459 1213 A50.8 50.8 0 0 0 1482.1 1220.6" stroke="#27d62b" stroke-width="1" fill="none"/>
<path d="M1486.9 1275.3 L1459.9 1231.5 L1458.1 1232.5 L1485.1 1276.3 Z" stroke="#27d62b" stroke-width="1" fill="none"/>
<path d="M1459 1232 A51.5 51.5 0 0 1 1482 1224.5" stroke="#27d62b" stroke-width="1" fill="none"/>
<path d="M1124.3 1414.1 L1160.7 1435.1 L1161.7 1433.3 L1125.3 1412.3 Z" stroke="#27d62b" stroke-width="1" fill="none"/>
<path d="M1161.2 1434.2 A42 42 0 0 0 1166.3 1420" stroke="#27d62b" stroke-width="1" fill="none"/>
<path d="M1208.3 1412.3 L1173.3 1433.3 L1174.3 1435.1 L1209.3 1414.1 Z" stroke="#27d62b" stroke-width="1" fill="none"/>
<path d="M1173.8 1434.2 A40.8 40.8 0 0 1 1168.5 1419.9" stroke="#27d62b" stroke-width="1" fill="none"/>
<path d="M1317.5 1414.9 L1359.5 1440.9 L1360.5 1439.1 L1318.5 1413.1 Z" stroke="#27d62b" stroke-width="1" fill="none"/>
<path d="M1360 1440 A49.4 49.4 0 0 0 1367 1420.1" stroke="#27d62b" stroke-width="1" fill="none"/>
<path d="M1417.5 1413.1 L1375.5 1439.1 L1376.5 1440.9 L1418.5 1414.9 Z" stroke="#27d62b" stroke-width="1" fill="none"/>
<path d="M1376 1440 A49.4 49.4 0 0 1 1369 1420.1" stroke="#27d62b" stroke-width="1" fill="none"/>
<rect x="810" y="262" width="61" height="15" fill="#fbfbfb"/>
<text x="840.5" y="268.2" font-size="6" fill="#e3e3e3" text-anchor="middle">BOX BEAM</text>
<text x="840.5" y="275.1" font-size="6" fill="#e3e3e3" text-anchor="middle">TO 9'-4"</text>
<rect x="938" y="265" width="100" height="10" fill="#fbfbfb"/>
<text x="988" y="272.5" font-size="7" fill="#e3e3e3" text-anchor="middle">(2) 1.75x9.25 LVL</text>
<rect x="1420" y="380" width="45" height="22" fill="#fbfbfb"/>
<text x="1442.5" y="389.5" font-size="7" fill="#e3e3e3" text-anchor="middle">3) 2x12</text>
<text x="1442.5" y="397.5" font-size="7" fill="#e3e3e3" text-anchor="middle">SYP #2</text>
<rect x="848.8" y="576.8" width="129.1" height="34.7" fill="#fbfbfb"/>
<text x="913.3" y="587" font-size="9" fill="#e3e3e3" text-anchor="middle">(3) 1.75x20 LVL</text>
<text x="913.3" y="597.4" font-size="9" fill="#e3e3e3" text-anchor="middle">TOP FLUSH OR W10x39</text>
<text x="913.3" y="607.7" font-size="9" fill="#e3e3e3" text-anchor="middle">FLUSH</text>
<rect x="848.8" y="804.5" width="129.1" height="34.2" fill="#fbfbfb"/>
<text x="913.3" y="814.5" font-size="9" fill="#e3e3e3" text-anchor="middle">(3) 1.75x18 LVL</text>
<text x="913.3" y="824.8" font-size="9" fill="#e3e3e3" text-anchor="middle">TOP FLUSH OR W10x33</text>
<text x="913.3" y="835.2" font-size="9" fill="#e3e3e3" text-anchor="middle">FLUSH</text>
<rect x="1044" y="804" width="41.3" height="18.7" fill="#fbfbfb"/>
<text x="1064.7" y="811.6" font-size="8" fill="#e3e3e3" text-anchor="middle">STEEL</text>
<text x="1064.7" y="820.8" font-size="8" fill="#e3e3e3" text-anchor="middle">OPTION</text>
<rect x="779" y="517" width="41" height="17" fill="#fbfbfb"/>
<text x="799.5" y="523.8" font-size="8" fill="#e3e3e3" text-anchor="middle">STEEL</text>
<text x="799.5" y="533" font-size="8" fill="#e3e3e3" text-anchor="middle">OPTION</text>
<rect x="1060.8" y="588" width="31.7" height="22" fill="#fbfbfb"/>
<text x="1076.7" y="597.3" font-size="8" fill="#e3e3e3" text-anchor="middle">2x6</text>
<text x="1076.7" y="606.5" font-size="8" fill="#e3e3e3" text-anchor="middle">WALL</text>
<rect x="626" y="550.5" width="45" height="10.5" fill="#fbfbfb"/>
<text x="648.5" y="558.3" font-size="7" fill="#e3e3e3" text-anchor="middle">3)-2x12</text>
<rect x="531" y="425" width="10" height="43" fill="#fbfbfb"/>
<rect x="755.5" y="374" width="9.5" height="40" fill="#fbfbfb"/>
<rect x="755.5" y="477" width="9.5" height="40" fill="#fbfbfb"/>
<rect x="899" y="413" width="24" height="52" fill="#fbfbfb"/>
<text x="909.6" y="439" font-size="7" fill="#e3e3e3" text-anchor="middle" transform="rotate(-90 909.6 439)">2x10 CJ</text>
<text x="917.3" y="439" font-size="7" fill="#e3e3e3" text-anchor="middle" transform="rotate(-90 917.3 439)">@ 16" O.C.</text>
<rect x="1151.2" y="426.7" width="11.2" height="44.2" fill="#fbfbfb"/>
<rect x="1162.4" y="421.3" width="11.2" height="56" fill="#fbfbfb"/>
<text x="1170.1" y="449.3" font-size="6" fill="#e3e3e3" text-anchor="middle" transform="rotate(-90 1170.1 449.3)">2x10 CJ @ 16" O.C.</text>
<rect x="553.5" y="673" width="10.5" height="83" fill="#fbfbfb"/>
<rect x="733" y="645" width="10" height="41" fill="#fbfbfb"/>
<rect x="733" y="746" width="10" height="41" fill="#fbfbfb"/>
<rect x="1114.7" y="642.7" width="9.8" height="44" fill="#fbfbfb"/>
<path d="M1256 441.7 L1368 441.7" stroke="#e4e4ea" stroke-width="1" fill="none"/>
<path d="M1368 441.7 L1360 443.3 L1360 440.1 Z" fill="#e4e4ea"/>
<path d="M1256 441.7 L1264 440.1 L1264 443.3 Z" fill="#e4e4ea"/>
<rect x="1291" y="431.2" width="44" height="10.5" fill="#fbfbfb"/>
<text x="1313" y="439" font-size="7" fill="#e3e3e3" text-anchor="middle">2x10 CJ</text>
<rect x="1285" y="441.7" width="56" height="11" fill="#fbfbfb"/>
<text x="1313" y="449.7" font-size="7" fill="#e3e3e3" text-anchor="middle">@ 16" O.C.</text>
<path d="M1256 647.7 L1368 647.7" stroke="#e4e4ea" stroke-width="1" fill="none"/>
<path d="M1368 647.7 L1360 649.3 L1360 646.1 Z" fill="#e4e4ea"/>
<path d="M1256 647.7 L1264 646.1 L1264 649.3 Z" fill="#e4e4ea"/>
<rect x="1291" y="637.2" width="44" height="10.5" fill="#fbfbfb"/>
<text x="1313" y="645" font-size="7" fill="#e3e3e3" text-anchor="middle">2x10 CJ</text>
<rect x="1285" y="647.7" width="56" height="11" fill="#fbfbfb"/>
<text x="1313" y="655.7" font-size="7" fill="#e3e3e3" text-anchor="middle">@ 16" O.C.</text>
<path d="M1256 853.7 L1368 853.7" stroke="#e4e4ea" stroke-width="1" fill="none"/>
<path d="M1368 853.7 L1360 855.3 L1360 852.1 Z" fill="#e4e4ea"/>
<path d="M1256 853.7 L1264 852.1 L1264 855.3 Z" fill="#e4e4ea"/>
<rect x="1291" y="843.2" width="44" height="10.5" fill="#fbfbfb"/>
<text x="1313" y="851" font-size="7" fill="#e3e3e3" text-anchor="middle">2x10 CJ</text>
<rect x="1285" y="853.7" width="56" height="11" fill="#fbfbfb"/>
<text x="1313" y="861.7" font-size="7" fill="#e3e3e3" text-anchor="middle">@ 16" O.C.</text>
<path d="M1122.7 630 L1225.9 630" stroke="#e4e4ea" stroke-width="1" fill="none"/>
<path d="M1225.9 630 L1217.9 631.6 L1217.9 628.4 Z" fill="#e4e4ea"/>
<path d="M1122.7 630 L1130.7 628.4 L1130.7 631.6 Z" fill="#e4e4ea"/>
<rect x="1153" y="619" width="44" height="11" fill="#fbfbfb"/>
<text x="1175" y="627" font-size="7" fill="#e3e3e3" text-anchor="middle">2x10 CJ</text>
<rect x="1146.7" y="630" width="56" height="10.8" fill="#fbfbfb"/>
<text x="1174.7" y="637.9" font-size="7" fill="#e3e3e3" text-anchor="middle">@ 16" O.C.</text>
<path d="M1057.6 1046 L1232.6 1046" stroke="#e4e4ea" stroke-width="1" fill="none"/>
<path d="M1232.6 1046 L1224.6 1047.6 L1224.6 1044.4 Z" fill="#e4e4ea"/>
<path d="M1057.6 1046 L1065.6 1044.4 L1065.6 1047.6 Z" fill="#e4e4ea"/>
<rect x="1124.3" y="1034.9" width="44.7" height="11.1" fill="#fbfbfb"/>
<text x="1146.7" y="1043" font-size="7" fill="#e3e3e3" text-anchor="middle">2x10 CJ</text>
<rect x="1117.8" y="1046" width="56" height="11.8" fill="#fbfbfb"/>
<text x="1145.8" y="1054.4" font-size="7" fill="#e3e3e3" text-anchor="middle">@ 16" O.C.</text>
<path d="M1068.8 1255.2 L1222.8 1255.2" stroke="#e4e4ea" stroke-width="1" fill="none"/>
<path d="M1222.8 1255.2 L1214.8 1256.8 L1214.8 1253.6 Z" fill="#e4e4ea"/>
<path d="M1068.8 1255.2 L1076.8 1253.6 L1076.8 1256.8 Z" fill="#e4e4ea"/>
<rect x="1124.3" y="1244" width="44.7" height="11.2" fill="#fbfbfb"/>
<text x="1146.7" y="1252.1" font-size="7" fill="#e3e3e3" text-anchor="middle">2x10 CJ</text>
<rect x="1117.8" y="1255.2" width="56" height="11.8" fill="#fbfbfb"/>
<text x="1145.8" y="1263.6" font-size="7" fill="#e3e3e3" text-anchor="middle">@ 16" O.C.</text>
<rect x="1165.9" y="672.5" width="44.8" height="9.5" fill="#fbfbfb"/>
<text x="1188.3" y="679.4" font-size="6" fill="#e3e3e3" text-anchor="middle">3)-2x10</text>
<path d="M1210.7 677 C1220 680 1228 668 1240 660" stroke="#e4e4ea" stroke-width="0.9" fill="none"/>
<rect x="1310" y="333" width="15" height="8" fill="#f2f2f2"/>
<rect x="1310" y="412" width="15" height="8" fill="#f2f2f2"/>
<rect x="1310" y="461" width="15" height="8" fill="#f2f2f2"/>
<rect x="1310" y="618" width="15" height="8" fill="#f2f2f2"/>
<rect x="1310" y="667" width="15" height="8" fill="#f2f2f2"/>
<rect x="1310" y="770" width="15" height="8" fill="#f2f2f2"/>
<rect x="1310" y="824" width="15" height="8" fill="#f2f2f2"/>
<rect x="1310" y="873" width="15" height="8" fill="#f2f2f2"/>
<rect x="870" y="404" width="14" height="8" fill="#f2f2f2"/>
<rect x="937" y="404" width="14" height="8" fill="#f2f2f2"/>
<rect x="1042" y="404" width="14" height="8" fill="#f2f2f2"/>
<rect x="1081" y="404" width="14" height="8" fill="#f2f2f2"/>
<rect x="755" y="326" width="8" height="9" fill="#f2f2f2"/>
<rect x="755" y="341" width="8" height="9" fill="#f2f2f2"/>
<rect x="755" y="428" width="8" height="9" fill="#f2f2f2"/>
<rect x="755" y="531" width="8" height="9" fill="#f2f2f2"/>
<rect x="755" y="546" width="8" height="9" fill="#f2f2f2"/>
<rect x="746" y="320" width="9" height="8" fill="#f2f2f2"/>
<rect x="746" y="343" width="9" height="6" fill="#f2f2f2"/>
<rect x="746" y="441" width="9" height="10" fill="#f2f2f2"/>
<rect x="746" y="540" width="9" height="6" fill="#f2f2f2"/>
<rect x="746" y="564" width="9" height="9" fill="#f2f2f2"/>
<rect x="1083" y="320" width="9" height="9" fill="#f2f2f2"/>
<rect x="1242" y="564" width="9" height="9" fill="#f2f2f2"/>
<rect x="1058" y="564" width="9" height="9" fill="#f2f2f2"/>
<rect x="543.3" y="610" width="9" height="6" fill="#f2f2f2"/>
<rect x="543.3" y="815" width="9" height="6" fill="#f2f2f2"/>
<rect x="745.5" y="614" width="9" height="7" fill="#f2f2f2"/>
<rect x="745.5" y="708" width="9" height="12" fill="#f2f2f2"/>
<rect x="745.5" y="809" width="9" height="7" fill="#f2f2f2"/>
<rect x="571" y="564" width="6" height="9" fill="#f2f2f2"/>
<rect x="723" y="564" width="6" height="9" fill="#f2f2f2"/>
<rect x="571" y="573" width="6" height="11" fill="#f2f2f2"/>
<rect x="723" y="573" width="6" height="11" fill="#f2f2f2"/>
<rect x="555" y="606" width="8" height="9" fill="#f2f2f2"/>
<rect x="555" y="813" width="8" height="9" fill="#f2f2f2"/>
<rect x="734" y="712" width="8" height="9" fill="#f2f2f2"/>
<rect x="1056" y="573" width="9" height="11" fill="#f2f2f2"/>
<rect x="1114.5" y="588" width="7" height="9" fill="#f2f2f2"/>
<rect x="1114.5" y="729" width="7" height="9" fill="#f2f2f2"/>
<rect x="1108" y="586" width="6" height="5" fill="#f2f2f2"/>
<rect x="1108" y="731" width="6" height="5" fill="#f2f2f2"/>
<rect x="1104" y="865" width="9" height="8" fill="#f2f2f2"/>
<rect x="816" y="861" width="7" height="8" fill="#f2f2f2"/>
<rect x="822" y="850" width="9" height="9" fill="#f2f2f2"/>
<rect x="1097" y="850" width="9" height="9" fill="#f2f2f2"/>
<rect x="1243" y="592" width="8" height="5" fill="#f2f2f2"/>
<rect x="1243" y="696" width="8" height="5" fill="#f2f2f2"/>
<rect x="1252.5" y="590" width="8" height="10" fill="#f2f2f2"/>
<rect x="1252.5" y="694" width="8" height="10" fill="#f2f2f2"/>
<rect x="990" y="320" width="7" height="8" fill="#f2f2f2"/>
<rect x="997" y="330" width="8" height="9" fill="#f2f2f2"/>
<rect x="1074" y="309" width="7" height="11" fill="#f2f2f2"/>
<rect x="543" y="897" width="9" height="5" fill="#f2f2f2"/>
<rect x="543" y="1041" width="9" height="5" fill="#f2f2f2"/>
<rect x="534" y="894" width="7" height="9" fill="#f2f2f2"/>
<rect x="534" y="1038" width="7" height="9" fill="#f2f2f2"/>
<rect x="737" y="881" width="8" height="8" fill="#f2f2f2"/>
<rect x="737" y="1053" width="8" height="8" fill="#f2f2f2"/>
<rect x="745" y="1060" width="9" height="8" fill="#f2f2f2"/>
<rect x="807" y="1050" width="7" height="9" fill="#f2f2f2"/>
<rect x="839" y="1050" width="7" height="9" fill="#f2f2f2"/>
<rect x="904" y="1050" width="7" height="9" fill="#f2f2f2"/>
<rect x="954" y="1050" width="7" height="9" fill="#f2f2f2"/>
<rect x="1053" y="1059" width="7" height="11" fill="#f2f2f2"/>
<rect x="931" y="1062" width="7" height="6" fill="#f2f2f2"/>
<rect x="897" y="1062" width="7" height="6" fill="#f2f2f2"/>
<rect x="832" y="1062" width="7" height="6" fill="#f2f2f2"/>
<rect x="868.6" y="1339" width="7" height="19" fill="#f2f2f2"/>
<rect x="997.4" y="1347.4" width="7.6" height="10.6" fill="#f2f2f2"/>
<rect x="1095.4" y="1347.4" width="7.6" height="10.6" fill="#f2f2f2"/>
<rect x="1001.6" y="1339" width="6" height="8" fill="#f2f2f2"/>
<rect x="1091" y="1339" width="6" height="8" fill="#f2f2f2"/>
<rect x="1037" y="1201" width="7" height="10" fill="#f2f2f2"/>
<rect x="1046" y="1203" width="6" height="6" fill="#f2f2f2"/>
<rect x="1521" y="976" width="7" height="9.4" fill="#f2f2f2"/>
<rect x="1673" y="976" width="7" height="9.4" fill="#f2f2f2"/>
<rect x="1709" y="976" width="7" height="9.4" fill="#f2f2f2"/>
<rect x="1864" y="976" width="7" height="9.4" fill="#f2f2f2"/>
<rect x="1486" y="1160" width="8" height="9" fill="#f2f2f2"/>
<rect x="1895" y="1160" width="10" height="9" fill="#f2f2f2"/>
<rect x="1493" y="1148" width="10" height="10" fill="#f2f2f2"/>
<rect x="1878" y="1148" width="10" height="10" fill="#f2f2f2"/>
<rect x="1309" y="1404" width="6" height="9" fill="#f2f2f2"/>
<rect x="1420" y="1404" width="6" height="9" fill="#f2f2f2"/>
<rect x="1309" y="1413" width="7" height="9" fill="#f2f2f2"/>
<rect x="1420" y="1413" width="7" height="9" fill="#f2f2f2"/>
<rect x="1185" y="967" width="12" height="7" fill="#f2f2f2"/>
<rect x="1086" y="939" width="13" height="7" fill="#f2f2f2"/>
<rect x="1140" y="1181" width="13" height="7" fill="#f2f2f2"/>
<rect x="1187" y="963" width="0" height="0" fill="#f2f2f2"/>
<rect x="1570" y="1013" width="14" height="9" fill="#f2f2f2"/>
<rect x="1637" y="1013" width="14" height="9" fill="#f2f2f2"/>
<rect x="1761" y="1013" width="14" height="9" fill="#f2f2f2"/>
<rect x="1828" y="1013" width="14" height="9" fill="#f2f2f2"/>
<rect x="865" y="933" width="21.8" height="55.7" fill="#fbfbfb"/>
<text x="874.5" y="960.9" font-size="7" fill="#e3e3e3" text-anchor="middle" transform="rotate(-90 874.5 960.9)">2x10 CJ</text>
<text x="882.2" y="960.9" font-size="7" fill="#e3e3e3" text-anchor="middle" transform="rotate(-90 882.2 960.9)">@ 16" O.C.</text>
<rect x="734.2" y="949.4" width="10.1" height="45.6" fill="#fbfbfb"/>
<rect x="776.4" y="936.3" width="21.3" height="56.1" fill="#fbfbfb"/>
<text x="785.6" y="964.3" font-size="7" fill="#e3e3e3" text-anchor="middle" transform="rotate(-90 785.6 964.3)">2x10 CJ</text>
<text x="793.4" y="964.3" font-size="7" fill="#e3e3e3" text-anchor="middle" transform="rotate(-90 793.4 964.3)">@ 16" O.C.</text>
<rect x="634.5" y="1039" width="59.4" height="18.7" fill="#fbfbfb"/>
<text x="664.2" y="1046.8" font-size="7" fill="#e3e3e3" text-anchor="middle">LOOKOUTS</text>
<text x="664.2" y="1054.9" font-size="7" fill="#e3e3e3" text-anchor="middle">@ 16" O.C.</text>
<rect x="736.1" y="1088.3" width="53.4" height="18.7" fill="#fbfbfb"/>
<text x="762.8" y="1096.1" font-size="7" fill="#e3e3e3" text-anchor="middle">SIMPSON</text>
<text x="762.8" y="1104.2" font-size="7" fill="#e3e3e3" text-anchor="middle">LUS 210-2</text>
<rect x="598" y="1269.4" width="53" height="31" fill="#fbfbfb"/>
<text x="624.5" y="1279.4" font-size="7" fill="#e3e3e3" text-anchor="middle">SIMPSON</text>
<text x="624.5" y="1287.4" font-size="7" fill="#e3e3e3" text-anchor="middle">LUS 210-2</text>
<text x="624.5" y="1295.5" font-size="7" fill="#e3e3e3" text-anchor="middle">(TYP.)</text>
<rect x="672.6" y="1122" width="46" height="9.3" fill="#fbfbfb"/>
<text x="695.6" y="1128.8" font-size="6" fill="#e3e3e3" text-anchor="middle">3)-2x12</text>
<rect x="679" y="1293.7" width="45.2" height="10.5" fill="#fbfbfb"/>
<text x="701.6" y="1301.1" font-size="6" fill="#e3e3e3" text-anchor="middle">3)-2x12</text>
<rect x="567" y="1190.3" width="9.7" height="44.7" fill="#fbfbfb"/>
<rect x="793.2" y="1190.3" width="9.4" height="44.7" fill="#fbfbfb"/>
<rect x="522.5" y="1358.3" width="59.4" height="19.4" fill="#fbfbfb"/>
<text x="552.2" y="1366.5" font-size="7" fill="#e3e3e3" text-anchor="middle">LOOKOUTS</text>
<text x="552.2" y="1374.5" font-size="7" fill="#e3e3e3" text-anchor="middle">@ 16" O.C.</text>
<rect x="282.4" y="1107.7" width="57.9" height="9.7" fill="#fbfbfb"/>
<text x="311.4" y="1115.1" font-size="7" fill="#e3e3e3" text-anchor="middle">PT (2) 2x8</text>
<rect x="891.8" y="1095.6" width="48.8" height="30.3" fill="#fbfbfb"/>
<text x="916.2" y="1105.2" font-size="7" fill="#e3e3e3" text-anchor="middle">SIMPSON</text>
<text x="916.2" y="1113.3" font-size="7" fill="#e3e3e3" text-anchor="middle">HU410</text>
<text x="916.2" y="1121.3" font-size="7" fill="#e3e3e3" text-anchor="middle">MAX.)</text>
<rect x="979" y="1050" width="44" height="10" fill="#fbfbfb"/>
<text x="1001" y="1057.2" font-size="6" fill="#e3e3e3" text-anchor="middle">2)-2x10</text>
<rect x="905.8" y="1174" width="7.6" height="89.6" fill="#fbfbfb"/>
<rect x="937.2" y="1181.9" width="22.4" height="55.1" fill="#fbfbfb"/>
<text x="947" y="1209.5" font-size="7" fill="#e3e3e3" text-anchor="middle" transform="rotate(-90 947 1209.5)">2x10 CJ</text>
<text x="954.7" y="1209.5" font-size="7" fill="#e3e3e3" text-anchor="middle" transform="rotate(-90 954.7 1209.5)">@ 16" O.C.</text>
<rect x="876.2" y="1211.8" width="23.2" height="43.4" fill="#fbfbfb"/>
<text x="886.4" y="1233.5" font-size="7" fill="#e3e3e3" text-anchor="middle" transform="rotate(-90 886.4 1233.5)">WALL</text>
<text x="894.1" y="1233.5" font-size="7" fill="#e3e3e3" text-anchor="middle" transform="rotate(-90 894.1 1233.5)">ABOVE</text>
<rect x="1053.4" y="1237" width="10.4" height="44.8" fill="#fbfbfb"/>
<rect x="1027.4" y="1348.8" width="40.8" height="9.8" fill="#fbfbfb"/>
<text x="1047.8" y="1355.9" font-size="6" fill="#e3e3e3" text-anchor="middle">3)-2x8</text>
<rect x="1697" y="1047.8" width="11" height="45.9" fill="#fbfbfb"/>
<rect x="1652" y="1169.3" width="82" height="10.7" fill="#fbfbfb"/>
<text x="1693" y="1177.2" font-size="7" fill="#e3e3e3" text-anchor="middle">3) 1.75x18 LVL</text>
<rect x="1343.8" y="1394.4" width="46.1" height="9.6" fill="#fbfbfb"/>
<text x="1366.8" y="1401.4" font-size="6" fill="#e3e3e3" text-anchor="middle">3)-2x8</text>
<rect x="755" y="1067.5" width="45" height="10.8" fill="#fbfbfb"/>
<text x="777.5" y="1075.1" font-size="6" fill="#e3e3e3" text-anchor="middle">2)-2x10</text>
<path d="M871 264 C884 262 884 275 880 285 C876 300 865 310 858 322" stroke="#e4e4ea" stroke-width="0.9" fill="none"/>
<path d="M857 324 L858.3 317.9 L861.1 319.3 Z" fill="#e4e4ea"/>
<path d="M938 270 C920 268 916 285 913 300 L909 318" stroke="#e4e4ea" stroke-width="0.9" fill="none"/>
<path d="M908.5 320 L907.9 313.8 L911.1 314.3 Z" fill="#e4e4ea"/>
<path d="M1038 270 C1050 268 1047 285 1040 300 L1024 319" stroke="#e4e4ea" stroke-width="0.9" fill="none"/>
<path d="M1023 320.5 L1025 314.6 L1027.7 316.4 Z" fill="#e4e4ea"/>
<path d="M1420 387 C1410 383 1405 391 1399 389 C1393 387 1389 392 1384 396.5" stroke="#e4e4ea" stroke-width="0.9" fill="none"/>
<path d="M1382 398.5 L1384.9 394.1 L1386.9 396.6 Z" fill="#e4e4ea"/>
<path d="M912 340 L912 545" stroke="#e4e4ea" stroke-width="1" fill="none"/>
<path d="M912 545 L910.4 537 L913.6 537 Z" fill="#e4e4ea"/>
<path d="M912 340 L913.6 348 L910.4 348 Z" fill="#e4e4ea"/>
<path d="M1162 340 L1162 558" stroke="#e4e4ea" stroke-width="1" fill="none"/>
<path d="M1162 558 L1160.4 550 L1163.6 550 Z" fill="#e4e4ea"/>
<path d="M1162 340 L1163.6 348 L1160.4 348 Z" fill="#e4e4ea"/>
<path d="M837.4 589 L837.4 850.4" stroke="#e4e4ea" stroke-width="1" fill="none"/>
<path d="M837.4 850.4 L835.8 842.4 L839 842.4 Z" fill="#e4e4ea"/>
<path d="M837.4 589 L839 597 L835.8 597 Z" fill="#e4e4ea"/>
<text x="835" y="715.5" font-size="10" fill="#e4e4ea" text-anchor="middle" textLength="83" lengthAdjust="spacingAndGlyphs" transform="rotate(-90 835 715.5)">2x10 SYP #2 CJ</text>
<text x="846.7" y="715" font-size="10" fill="#e4e4ea" text-anchor="middle" textLength="52" lengthAdjust="spacingAndGlyphs" transform="rotate(-90 846.7 715)">@ 12" O.C.</text>
<path d="M576 651.5 L722 651.5" stroke="#e4e4ea" stroke-width="1" fill="none"/>
<path d="M722 651.5 L714 653.1 L714 649.9 Z" fill="#e4e4ea"/>
<path d="M576 651.5 L584 649.9 L584 653.1 Z" fill="#e4e4ea"/>
<text x="649" y="649" font-size="10" fill="#e4e4ea" text-anchor="middle" textLength="72" lengthAdjust="spacingAndGlyphs">2x8 TRTD CJ</text>
<text x="649" y="661.4" font-size="10" fill="#e4e4ea" text-anchor="middle" textLength="52" lengthAdjust="spacingAndGlyphs">@ 16" O.C.</text>
<path d="M977.9 594 C992 600 986 588 975 580" stroke="#e4e4ea" stroke-width="0.9" fill="none"/>
<path d="M977.9 822 C992 820 990 828 985 838 L973 858" stroke="#e4e4ea" stroke-width="0.9" fill="none"/>
<path d="M972 860 L973.3 853.9 L976.1 855.3 Z" fill="#e4e4ea"/>
<path d="M1092.5 600 C1096 590 1092 584 1088 576" stroke="#e4e4ea" stroke-width="0.9" fill="none"/>
<path d="M1087 574 L1090.1 578.2 L1087.1 579.2 Z" fill="#e4e4ea"/>
<circle cx="799" cy="548" r="11.5" stroke="#e4e4ea" stroke-width="1" fill="none"/>
<text x="799" y="553.5" font-size="15" fill="#e4e4ea" text-anchor="middle">D</text>
<line x1="799" y1="559.5" x2="799" y2="593" stroke="#e4e4ea" stroke-width="1"/>
<circle cx="1063.5" cy="835.2" r="11.5" stroke="#e4e4ea" stroke-width="1" fill="none"/>
<text x="1063.5" y="840.7" font-size="15" fill="#e4e4ea" text-anchor="middle">B</text>
<line x1="1063.5" y1="846.7" x2="1063.5" y2="882.7" stroke="#e4e4ea" stroke-width="1"/>
<circle cx="1737.3" cy="925" r="11" stroke="#e4e4ea" stroke-width="1" fill="none"/>
<text x="1737.3" y="930.5" font-size="15" fill="#e4e4ea" text-anchor="middle">A</text>
<line x1="1737.3" y1="936" x2="1737.3" y2="997" stroke="#e4e4ea" stroke-width="1"/>
<circle cx="1849.3" cy="1193" r="11" stroke="#e4e4ea" stroke-width="1" fill="none"/>
<text x="1849.3" y="1198.5" font-size="15" fill="#e4e4ea" text-anchor="middle">C</text>
<path d="M1860 1193 L1871 1193 L1895 1168.8" stroke="#e4e4ea" stroke-width="1" fill="none"/>
<text x="738" y="620" font-size="9" fill="#e4e4ea">3</text>
<text x="757.5" y="818" font-size="9" fill="#e4e4ea">3</text>
<text x="846" y="1165" font-size="8" fill="#c8c8d0">4</text>
<text x="1524" y="972.5" font-size="9" fill="#e4e4ea">3</text>
<text x="1675" y="972.5" font-size="9" fill="#e4e4ea">3</text>
<text x="1709" y="972.5" font-size="9" fill="#e4e4ea">3</text>
<text x="1861" y="972.5" font-size="9" fill="#e4e4ea">3</text>
<text x="1595.5" y="972.8" font-size="9" fill="#e4e4ea" text-anchor="middle" textLength="39" lengthAdjust="spacingAndGlyphs">(3) 2x12</text>
<text x="1785.5" y="972.8" font-size="9" fill="#e4e4ea" text-anchor="middle" textLength="39" lengthAdjust="spacingAndGlyphs">(3) 2x12</text>
<text x="1581.4" y="996.6" font-size="10.5" fill="#e6e628" textLength="85.6" lengthAdjust="spacingAndGlyphs">9/0x8/0 OH DR</text>
<text x="1773" y="996.6" font-size="10.5" fill="#e6e628" textLength="86" lengthAdjust="spacingAndGlyphs">9/0x8/0 OH DR</text>
<path d="M1429.6 995 L1429.6 1149" stroke="#e4e4ea" stroke-width="1" fill="none"/>
<path d="M1429.6 1149 L1428 1141 L1431.2 1141 Z" fill="#e4e4ea"/>
<path d="M1429.6 995 L1431.2 1003 L1428 1003 Z" fill="#e4e4ea"/>
<text x="1424" y="1068.7" font-size="10.5" fill="#e4e4ea" text-anchor="middle" textLength="111" lengthAdjust="spacingAndGlyphs" transform="rotate(-90 1424 1068.7)">2x10 CJ @ 16" O.C.</text>
<text x="1438" y="1068.7" font-size="10.5" fill="#e4e4ea" text-anchor="middle" textLength="111" lengthAdjust="spacingAndGlyphs" transform="rotate(-90 1438 1068.7)">AT 8'-6½" CLG. HGT.</text>
<text x="1450" y="1068.7" font-size="10.5" fill="#e4e4ea" text-anchor="middle" textLength="111" lengthAdjust="spacingAndGlyphs" transform="rotate(-90 1450 1068.7)">AFF OF HTD. SPACE</text>
<path d="M1596 1003.6 L1596 1152" stroke="#e4e4ea" stroke-width="1" fill="none"/>
<path d="M1596 1152 L1594.4 1144 L1597.6 1144 Z" fill="#e4e4ea"/>
<path d="M1596 1003.6 L1597.6 1011.6 L1594.4 1011.6 Z" fill="#e4e4ea"/>
<text x="1591" y="1082.5" font-size="10.5" fill="#e4e4ea" text-anchor="middle" textLength="111" lengthAdjust="spacingAndGlyphs" transform="rotate(-90 1591 1082.5)">2x10 CJ @ 16" O.C.</text>
<text x="1605.7" y="1082.5" font-size="10.5" fill="#e4e4ea" text-anchor="middle" textLength="111" lengthAdjust="spacingAndGlyphs" transform="rotate(-90 1605.7 1082.5)">AT 8'-6½" CLG. HGT.</text>
<text x="1617" y="1082.5" font-size="10.5" fill="#e4e4ea" text-anchor="middle" textLength="111" lengthAdjust="spacingAndGlyphs" transform="rotate(-90 1617 1082.5)">AFF OF HTD. SPACE</text>
<path d="M1363.5 1152 L1363.5 1386.8" stroke="#e4e4ea" stroke-width="1" fill="none"/>
<path d="M1363.5 1386.8 L1361.9 1378.8 L1365.1 1378.8 Z" fill="#e4e4ea"/>
<path d="M1363.5 1152 L1365.1 1160 L1361.9 1160 Z" fill="#e4e4ea"/>
<text x="1357" y="1275.5" font-size="10.5" fill="#e4e4ea" text-anchor="middle" textLength="111" lengthAdjust="spacingAndGlyphs" transform="rotate(-90 1357 1275.5)">2x10 CJ @ 16" O.C.</text>
<text x="1372" y="1275.5" font-size="10.5" fill="#e4e4ea" text-anchor="middle" textLength="111" lengthAdjust="spacingAndGlyphs" transform="rotate(-90 1372 1275.5)">AT 8'-6½" CLG. HGT.</text>
<text x="1383.9" y="1275.5" font-size="10.5" fill="#e4e4ea" text-anchor="middle" textLength="111" lengthAdjust="spacingAndGlyphs" transform="rotate(-90 1383.9 1275.5)">AFF OF HTD. SPACE</text>
<path d="M1715.4 1185 L1715.4 1366.4" stroke="#e4e4ea" stroke-width="1" fill="none"/>
<path d="M1715.4 1366.4 L1713.8 1358.4 L1717 1358.4 Z" fill="#e4e4ea"/>
<path d="M1715.4 1185 L1717 1193 L1713.8 1193 Z" fill="#e4e4ea"/>
<text x="1710.5" y="1275.5" font-size="10.5" fill="#e4e4ea" text-anchor="middle" textLength="111" lengthAdjust="spacingAndGlyphs" transform="rotate(-90 1710.5 1275.5)">2x10 CJ @ 16" O.C.</text>
<text x="1724.6" y="1275.5" font-size="10.5" fill="#e4e4ea" text-anchor="middle" textLength="111" lengthAdjust="spacingAndGlyphs" transform="rotate(-90 1724.6 1275.5)">AT 8'-6½" CLG. HGT.</text>
<text x="1736.4" y="1275.5" font-size="10.5" fill="#e4e4ea" text-anchor="middle" textLength="111" lengthAdjust="spacingAndGlyphs" transform="rotate(-90 1736.4 1275.5)">AFF OF HTD. SPACE</text>
<line x1="1694.7" y1="976" x2="1694.7" y2="1165" stroke="#e4e4ea" stroke-width="1"/>
<text x="1690" y="1070.8" font-size="10" fill="#e4e4ea" text-anchor="middle" textLength="45" lengthAdjust="spacingAndGlyphs" transform="rotate(-90 1690 1070.8)">11'-2" TO</text>
<line x1="1690.5" y1="972" x2="1699" y2="981" stroke="#e4e4ea" stroke-width="0.8"/>
<line x1="1690.5" y1="1160" x2="1699" y2="1169" stroke="#e4e4ea" stroke-width="0.8"/>
<path d="M691.3 1136.9 L691.3 1291.8" stroke="#e4e4ea" stroke-width="1" fill="none"/>
<path d="M691.3 1291.8 L689.7 1283.8 L692.9 1283.8 Z" fill="#e4e4ea"/>
<path d="M691.3 1136.9 L692.9 1144.9 L689.7 1144.9 Z" fill="#e4e4ea"/>
<text x="687.6" y="1219" font-size="10.5" fill="#e4e4ea" text-anchor="middle" textLength="101" lengthAdjust="spacingAndGlyphs" transform="rotate(-90 687.6 1219)">2x10 CJ @ 16" O.C.</text>
<text x="698.8" y="1219" font-size="10.5" fill="#e4e4ea" text-anchor="middle" textLength="71" lengthAdjust="spacingAndGlyphs" transform="rotate(-90 698.8 1219)">AT 11'-0" AFF</text>
<path d="M787.3 873.6 L787.3 1054.7" stroke="#e4e4ea" stroke-width="1" fill="none"/>
<path d="M787.3 1054.7 L785.7 1046.7 L788.9 1046.7 Z" fill="#e4e4ea"/>
<path d="M787.3 873.6 L788.9 881.6 L785.7 881.6 Z" fill="#e4e4ea"/>
<path d="M876.2 870 L876.2 1046.6" stroke="#e4e4ea" stroke-width="1" fill="none"/>
<path d="M876.2 1046.6 L874.6 1038.6 L877.8 1038.6 Z" fill="#e4e4ea"/>
<path d="M876.2 870 L877.8 878 L874.6 878 Z" fill="#e4e4ea"/>
<path d="M948.4 1090 L948.4 1332" stroke="#e4e4ea" stroke-width="1" fill="none"/>
<path d="M948.4 1332 L946.8 1324 L950 1324 Z" fill="#e4e4ea"/>
<path d="M948.4 1090 L950 1098 L946.8 1098 Z" fill="#e4e4ea"/>
<text x="893.8" y="1083" font-size="10" fill="#e4e4ea" textLength="89.6" lengthAdjust="spacingAndGlyphs">(2) 1.75x9.25 LVL</text>
<path d="M893 1080 C884 1080 884 1072 880 1068" stroke="#e4e4ea" stroke-width="0.9" fill="none"/>
<path d="M891.8 1100 C880 1100 876 1090 874 1070" stroke="#e4e4ea" stroke-width="0.9" fill="none"/>
<circle cx="808.4" cy="1065.6" r="4" stroke="#e4e4ea" stroke-width="0.9" fill="none"/>
<circle cx="871.4" cy="1065.6" r="4" stroke="#e4e4ea" stroke-width="0.9" fill="none"/>
<circle cx="583" cy="1307.7" r="4" stroke="#e4e4ea" stroke-width="0.9" fill="none"/>
<path d="M693.9 1043 C712 1040 714 1050 706 1062 L672 1100 L671 1108" stroke="#e4e4ea" stroke-width="0.9" fill="none"/>
<path d="M671 1112 L669.4 1106 L672.6 1106 Z" fill="#e4e4ea"/>
<path d="M789.5 1095 C800 1094 800 1080 808 1070" stroke="#e4e4ea" stroke-width="0.9" fill="none"/>
<path d="M598 1285 C590 1290 586 1298 584 1304" stroke="#e4e4ea" stroke-width="0.9" fill="none"/>
<path d="M581.9 1363 C596 1362 592 1340 588 1325 C582 1300 575 1270 562 1257" stroke="#e4e4ea" stroke-width="0.9" fill="none"/>
<path d="M561 1256 L566.8 1258.3 L564.8 1260.9 Z" fill="#e4e4ea"/>
<path d="M581.9 1366 C600 1364 605 1352 613 1344 L624 1325" stroke="#e4e4ea" stroke-width="0.9" fill="none"/>
<path d="M625 1323 L623.7 1329.1 L620.9 1327.7 Z" fill="#e4e4ea"/>
<line x1="625" y1="1318" x2="625" y2="1336" stroke="#e4e4ea" stroke-width="0.8"/>
<line x1="555" y1="1253" x2="577" y2="1253" stroke="#e4e4ea" stroke-width="0.8"/>
<path d="M899.4 1255 C905 1262 915 1262 913 1250" stroke="#e4e4ea" stroke-width="0.9" fill="none"/>
<text x="312.3" y="940" font-size="6.6" fill="#e4e4ea" textLength="181" lengthAdjust="spacingAndGlyphs">BALLOON FRAME WALL w/ 2x6 STUDS @ 12" O.C.</text>
<text x="312.3" y="948.3" font-size="6.6" fill="#e4e4ea" textLength="193" lengthAdjust="spacingAndGlyphs">ATTACH CONTINUOUS STUD COLUMNS TO TOP AND</text>
<text x="312.3" y="955.8" font-size="6.6" fill="#e4e4ea" textLength="167" lengthAdjust="spacingAndGlyphs">BOTTOM PLATES WITH SIMPSON LS50 CLIP</text>
<text x="312.3" y="964" font-size="6.6" fill="#e4e4ea" textLength="184" lengthAdjust="spacingAndGlyphs">ANGLES. INSTALL MIN. (2)2x6 HEADER BETWEEN</text>
<text x="312.3" y="971.8" font-size="6.6" fill="#e4e4ea" textLength="202" lengthAdjust="spacingAndGlyphs">UPPER AND LOWER WINDOWS. ATTACH HEADERS TO</text>
<text x="312.3" y="979.7" font-size="6.6" fill="#e4e4ea" textLength="193" lengthAdjust="spacingAndGlyphs">CONTINUOUS STUD COLUMNS WITH SIMPSON HH6</text>
<text x="312.3" y="987.5" font-size="6.6" fill="#e4e4ea" textLength="196" lengthAdjust="spacingAndGlyphs">HEADER HANGERS OR (2) SIMPSON LTP4 FRAMING</text>
<text x="312.3" y="995.3" font-size="6.6" fill="#e4e4ea" textLength="190" lengthAdjust="spacingAndGlyphs">ANCHORS. (NOTE THAT ADDITIONAL JACK STUDS</text>
<text x="312.3" y="1003.2" font-size="6.6" fill="#e4e4ea" textLength="199" lengthAdjust="spacingAndGlyphs">MAY BE INSTALLED IN LIEU OF HEADER HANGERS)</text>
<path d="M499 961.4 C512 955 518 958 524 962 C530 966 534 966 539 969" stroke="#e4e4ea" stroke-width="0.9" fill="none"/>
<path d="M541 970.5 L535.8 969.7 L537.2 966.8 Z" fill="#e4e4ea"/>
<text x="415" y="1058.4" font-size="10" fill="#e4e4ea" textLength="37.3" lengthAdjust="spacingAndGlyphs">PT 2x6</text>
<text x="405.6" y="1069.6" font-size="10" fill="#e4e4ea" textLength="54.2" lengthAdjust="spacingAndGlyphs">@ 16" O.C.</text>
<path d="M413 1055.5 C400 1055 394 1058 394.4 1071.5 C395 1082 402 1090 407 1098" stroke="#e4e4ea" stroke-width="0.9" fill="none"/>
<path d="M407.5 1099.5 L404.2 1095.4 L407.2 1094.3 Z" fill="#e4e4ea"/>
<path d="M340.3 1112.5 C352 1108 356 1114 362 1116 L372 1118.5" stroke="#e4e4ea" stroke-width="0.9" fill="none"/>
<path d="M374 1119 L368.8 1119.3 L369.5 1116.2 Z" fill="#e4e4ea"/>
<g fill="#ffffff" opacity="0.06">
<text class="ser" font-size="100" transform="translate(398 1064) rotate(-42.8)" textLength="1262" lengthAdjust="spacingAndGlyphs">© MyHomeFloorPlans.com</text>
<text class="ser" font-size="98" transform="translate(372 1420) rotate(-44.3)" textLength="1676" lengthAdjust="spacingAndGlyphs">ILLEGAL to Use for Construction</text>
<text class="ser" font-size="98" transform="translate(655 1386) rotate(-44)" textLength="1372" lengthAdjust="spacingAndGlyphs">May Only be Used for Estimations</text>
</g>
</svg></body></html>
